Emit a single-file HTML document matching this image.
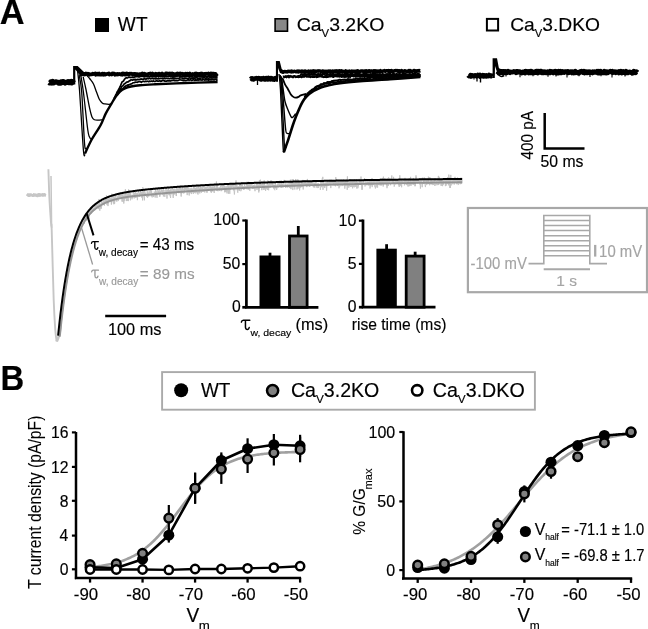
<!DOCTYPE html>
<html><head><meta charset="utf-8"><style>
html,body{margin:0;padding:0;background:#fff;width:648px;height:629px;overflow:hidden}
svg{display:block}
text{font-family:"Liberation Sans", sans-serif}
svg{will-change:transform}
</style></head><body>
<svg width="648" height="629" viewBox="0 0 648 629">
<rect width="648" height="629" fill="#fff"/>
<rect x="95" y="18" width="14" height="14" fill="#000"/>
<rect x="275.1" y="18.8" width="12.4" height="12.4" fill="#888" stroke="#000" stroke-width="1.6"/>
<rect x="486.9" y="18.9" width="11.2" height="11.6" fill="#fff" stroke="#000" stroke-width="2"/>
<path d="M49.00,82.50 L49.60,82.94 L50.20,82.74 L50.80,81.86 L51.40,81.98 L52.00,82.90 L52.60,81.51 L53.20,82.81 L53.80,82.78 L54.40,82.25 L55.00,81.98 L55.60,81.95 L56.20,81.91 L56.80,82.21 L57.40,82.31 L58.00,82.39 L58.60,83.09 L59.20,82.77 L59.80,82.50 L60.40,83.08 L61.00,81.84 L61.60,81.76 L62.20,82.48 L62.80,81.57 L63.40,81.56 L64.00,82.32 L64.60,82.25 L65.20,82.97 L65.80,82.51 L66.40,82.32 L67.00,82.29 L67.60,81.90 L68.20,81.52 L68.80,81.81 L69.40,82.61 L70.00,81.82 L70.60,82.09 L71.20,81.51 L71.80,82.83 L72.40,81.75 L73.00,81.93 L73.60,82.91" fill="none" stroke="#000" stroke-width="5.2" stroke-linejoin="round"/>
<path d="M73.10,84.60 L73.10,65.90 L77.70,65.90 L85.00,73.00 L85.00,76.00 L80.00,75.50 L77.80,72.50 L75.30,69.50 L75.30,84.60 Z" fill="#000"/>
<path d="M80.00,74.11 L80.60,74.59 L81.20,74.30 L81.80,74.44 L82.40,73.53 L83.00,74.16 L83.60,74.11 L84.20,74.62 L84.80,73.91 L85.40,74.24 L86.00,73.48 L86.60,73.94 L87.20,73.85 L87.80,73.61 L88.40,74.54 L89.00,73.93 L89.60,74.77 L90.20,74.23 L90.80,74.25 L91.40,74.29 L92.00,74.35 L92.60,73.61 L93.20,74.02 L93.80,73.74 L94.40,73.96 L95.00,73.54 L95.60,74.75 L96.20,73.70 L96.80,74.34 L97.40,73.82 L98.00,74.62 L98.60,74.33 L99.20,73.58 L99.80,74.58 L100.40,74.72 L101.00,74.67 L101.60,74.20 L102.20,73.60 L102.80,73.67 L103.40,74.70 L104.00,74.17 L104.60,73.65 L105.20,74.64 L105.80,74.30 L106.40,74.20 L107.00,73.93 L107.60,73.98 L108.20,73.74 L108.80,73.45 L109.40,74.63 L110.00,74.05 L110.60,74.17 L111.20,73.85 L111.80,74.45 L112.40,73.44 L113.00,73.92 L113.60,73.44 L114.20,73.57 L114.80,74.75 L115.40,74.32 L116.00,74.00 L116.60,74.13 L117.20,74.62 L117.80,73.88 L118.40,74.23 L119.00,74.36 L119.60,73.90 L120.20,74.13 L120.80,74.47 L121.40,74.67 L122.00,73.61 L122.60,74.71 L123.20,73.41 L123.80,74.45 L124.40,74.53 L125.00,73.59 L125.60,73.99 L126.20,74.54 L126.80,73.42 L127.40,74.28 L128.00,74.51 L128.60,74.12 L129.20,74.42 L129.80,73.72 L130.40,73.68 L131.00,73.91 L131.60,73.65 L132.20,73.88 L132.80,74.73 L133.40,74.20 L134.00,73.88 L134.60,73.78 L135.20,74.73 L135.80,74.02 L136.40,74.77 L137.00,74.12 L137.60,74.13 L138.20,74.66 L138.80,74.44 L139.40,74.21 L140.00,74.00 L140.60,74.63 L141.20,73.98 L141.80,74.69 L142.40,73.50 L143.00,74.00 L143.60,74.13 L144.20,74.73 L144.80,73.75 L145.40,74.53 L146.00,74.35 L146.60,74.40 L147.20,74.28 L147.80,74.76 L148.40,73.87 L149.00,73.96 L149.60,73.68 L150.20,73.47 L150.80,73.70 L151.40,74.68 L152.00,74.58 L152.60,73.56 L153.20,74.25 L153.80,74.07 L154.40,74.23 L155.00,74.32 L155.60,73.83 L156.20,74.75 L156.80,74.05 L157.40,74.28 L158.00,74.29 L158.60,73.66 L159.20,73.49 L159.80,73.98 L160.40,74.47 L161.00,74.54 L161.60,74.42 L162.20,73.56 L162.80,74.68 L163.40,74.52 L164.00,74.63 L164.60,74.13 L165.20,74.68 L165.80,73.47 L166.40,73.44 L167.00,73.43 L167.60,73.75 L168.20,73.75 L168.80,73.66 L169.40,74.19 L170.00,73.45 L170.60,74.23 L171.20,73.63 L171.80,74.35 L172.40,73.43 L173.00,73.83 L173.60,74.71 L174.20,74.15 L174.80,74.54 L175.40,74.32 L176.00,74.26 L176.60,73.67 L177.20,74.20 L177.80,73.46 L178.40,74.52 L179.00,74.74 L179.60,74.60 L180.20,73.47 L180.80,73.87 L181.40,73.85 L182.00,73.56 L182.60,74.28 L183.20,74.52 L183.80,73.84 L184.40,74.61 L185.00,74.52 L185.60,73.58 L186.20,74.47 L186.80,74.64 L187.40,73.68 L188.00,74.20 L188.60,74.29 L189.20,74.25 L189.80,73.53 L190.40,74.33 L191.00,74.28 L191.60,74.55 L192.20,74.52 L192.80,73.86 L193.40,74.41 L194.00,74.61 L194.60,74.65 L195.20,73.63 L195.80,73.44 L196.40,74.31 L197.00,73.70 L197.60,74.19 L198.20,74.72 L198.80,73.93 L199.40,73.75 L200.00,74.04 L200.60,74.32 L201.20,73.54 L201.80,73.93 L202.40,73.59 L203.00,74.33 L203.60,74.56 L204.20,73.93 L204.80,73.92 L205.40,74.16 L206.00,73.70 L206.60,73.75 L207.20,73.86 L207.80,74.04 L208.40,73.51 L209.00,74.45 L209.60,74.21 L210.20,73.82 L210.80,73.51 L211.40,74.47 L212.00,73.58 L212.60,73.59 L213.20,73.58 L213.80,73.51 L214.40,74.67 L215.00,73.78 L215.60,73.83 L216.20,74.57 L216.80,74.27 L217.40,73.66" fill="none" stroke="#000" stroke-width="3.7" stroke-linejoin="round"/>
<path d="M85.00,153.50 C86.12,151.17 89.08,144.25 91.70,139.50 C94.32,134.75 98.37,129.32 100.70,125.00 C103.03,120.68 103.90,117.17 105.70,113.60 C107.50,110.03 109.82,106.45 111.50,103.60 C113.18,100.75 114.38,98.52 115.80,96.50 C117.22,94.48 118.47,92.87 120.00,91.50 C121.53,90.13 123.17,89.13 125.00,88.30 C126.83,87.47 128.50,87.02 131.00,86.50 C133.50,85.98 136.00,85.57 140.00,85.20 C144.00,84.83 147.50,84.67 155.00,84.30 C162.50,83.93 174.57,83.38 185.00,83.00 C195.43,82.62 212.17,82.17 217.60,82.00" fill="none" stroke="#000" stroke-width="2.4" />
<path d="M77.60,71.00 C77.92,74.17 78.53,76.83 79.50,90.00 C80.47,103.17 82.48,139.37 83.40,150.00 C84.32,160.63 84.73,153.17 85.00,153.80" fill="none" stroke="#000" stroke-width="1.3" />
<path d="M79.20,75.50 C79.62,78.25 80.82,80.75 81.70,92.00 C82.58,103.25 83.77,133.58 84.50,143.00 C85.23,152.42 85.58,147.62 86.10,148.50 C86.62,149.38 87.35,148.33 87.60,148.30" fill="none" stroke="#000" stroke-width="1.3" />
<path d="M80.80,75.50 C81.23,78.25 82.23,82.92 83.40,92.00 C84.57,101.08 86.70,122.33 87.80,130.00 C88.90,137.67 89.38,136.50 90.00,138.00 C90.62,139.50 91.12,138.92 91.50,139.00 C91.88,139.08 92.17,138.58 92.30,138.50" fill="none" stroke="#000" stroke-width="1.3" />
<path d="M83.20,77.00 C83.68,79.17 85.05,84.88 86.10,90.00 C87.15,95.12 88.52,103.20 89.50,107.70 C90.48,112.20 91.17,114.98 92.00,117.00 C92.83,119.02 93.50,119.27 94.50,119.80 C95.50,120.33 96.70,120.20 98.00,120.20 C99.30,120.20 101.58,119.87 102.30,119.80" fill="none" stroke="#000" stroke-width="1.3" />
<path d="M86.50,75.00 C87.08,75.67 88.83,77.50 90.00,79.00 C91.17,80.50 92.42,81.83 93.50,84.00 C94.58,86.17 95.53,89.45 96.50,92.00 C97.47,94.55 98.35,97.48 99.30,99.30 C100.25,101.12 101.25,102.13 102.20,102.90 C103.15,103.67 103.82,103.67 105.00,103.90 C106.18,104.13 108.33,104.32 109.30,104.30 C110.27,104.28 110.55,103.88 110.80,103.80" fill="none" stroke="#000" stroke-width="1.3" />
<path d="M114.00,98.43 L114.80,97.28 L115.60,95.18 L116.40,93.91 L117.20,91.70 L118.00,90.73 L118.80,89.18 L119.60,87.63 L120.40,85.87 L121.20,83.97 L122.00,82.06 L122.80,81.58 L123.60,80.88 L124.40,79.37 L125.20,78.51 L126.00,77.84 L126.82,77.94 L127.64,77.98 L128.45,77.10 L129.27,77.05 L130.09,77.55 L130.91,77.29 L131.73,77.26 L132.55,77.42 L133.36,77.26 L134.18,77.05 L135.00,76.88 L135.81,76.49 L136.63,76.73 L137.44,76.27 L138.26,76.84 L139.07,76.83 L139.88,76.79 L140.70,76.51 L141.51,76.44 L142.33,76.48 L143.14,76.09 L143.95,76.89 L144.77,76.59 L145.58,76.43 L146.40,76.58 L147.21,76.75 L148.02,76.41 L148.84,76.85 L149.65,76.94 L150.47,76.40 L151.28,76.14 L152.09,76.76 L152.91,76.99 L153.72,76.14 L154.53,76.70 L155.35,76.81 L156.16,76.90 L156.98,76.10 L157.79,76.06 L158.60,76.95 L159.42,76.08 L160.23,76.13 L161.05,76.53 L161.86,76.39 L162.67,76.69 L163.49,76.13 L164.30,76.85 L165.12,76.15 L165.93,76.69 L166.74,75.99 L167.56,76.39 L168.37,75.94 L169.19,76.22 L170.00,76.21 L170.81,76.62 L171.61,76.35 L172.42,75.95 L173.23,76.89 L174.03,76.78 L174.84,76.81 L175.65,76.13 L176.45,76.28 L177.26,76.11 L178.07,76.01 L178.87,75.91 L179.68,76.38 L180.49,76.00 L181.29,76.05 L182.10,76.74 L182.91,76.36 L183.72,76.05 L184.52,76.54 L185.33,76.13 L186.14,76.39 L186.94,76.15 L187.75,76.38 L188.56,76.49 L189.36,76.40 L190.17,76.25 L190.98,76.65 L191.78,76.73 L192.59,76.03 L193.40,75.99 L194.20,75.96 L195.01,76.83 L195.82,76.79 L196.62,76.07 L197.43,76.81 L198.24,76.05 L199.04,76.35 L199.85,76.33 L200.66,76.75 L201.46,75.87 L202.27,76.15 L203.08,76.43 L203.88,75.90 L204.69,76.06 L205.50,76.29 L206.31,76.70 L207.11,76.58 L207.92,76.65 L208.73,76.58 L209.53,76.52 L210.34,76.66 L211.15,76.50 L211.95,76.55 L212.76,76.11 L213.57,75.98 L214.37,76.56 L215.18,75.97 L215.99,76.72 L216.79,76.40 L217.60,76.30" fill="none" stroke="#000" stroke-width="1.7" stroke-linejoin="round"/>
<path d="M115.00,97.03 L115.90,96.10 L116.80,93.78 L117.70,92.59 L118.60,90.63 L119.50,89.97 L120.33,88.58 L121.17,87.80 L122.00,86.28 L122.83,85.80 L123.67,84.70 L124.50,83.64 L125.31,83.51 L126.12,82.56 L126.94,82.10 L127.75,81.94 L128.56,81.65 L129.38,80.71 L130.19,80.61 L131.00,79.71 L131.83,79.99 L132.65,80.15 L133.48,79.38 L134.30,79.98 L135.13,79.21 L135.96,80.09 L136.78,79.54 L137.61,79.42 L138.43,79.67 L139.26,79.41 L140.09,79.56 L140.91,78.85 L141.74,79.27 L142.57,79.21 L143.39,79.52 L144.22,78.57 L145.04,78.92 L145.87,79.04 L146.70,78.89 L147.52,78.36 L148.35,78.81 L149.17,78.38 L150.00,78.30 L150.81,78.97 L151.62,78.28 L152.43,78.52 L153.24,78.81 L154.05,78.75 L154.86,78.59 L155.68,78.83 L156.49,78.48 L157.30,78.62 L158.11,78.81 L158.92,78.66 L159.73,78.61 L160.54,78.37 L161.35,78.51 L162.16,78.33 L162.97,78.67 L163.78,78.30 L164.59,78.37 L165.41,78.65 L166.22,78.39 L167.03,78.21 L167.84,78.69 L168.65,78.23 L169.46,78.69 L170.27,78.61 L171.08,78.27 L171.89,78.52 L172.70,77.83 L173.51,78.18 L174.32,78.64 L175.14,78.34 L175.95,78.31 L176.76,78.41 L177.57,78.41 L178.38,78.31 L179.19,78.13 L180.00,77.88 L180.82,77.99 L181.63,77.98 L182.45,78.11 L183.27,78.67 L184.09,78.02 L184.90,78.11 L185.72,78.03 L186.54,78.23 L187.36,78.59 L188.17,78.52 L188.99,78.01 L189.81,77.89 L190.63,78.50 L191.44,78.10 L192.26,78.29 L193.08,77.67 L193.90,78.46 L194.71,77.90 L195.53,78.07 L196.35,77.77 L197.17,77.98 L197.98,78.38 L198.80,78.38 L199.62,78.02 L200.43,78.30 L201.25,77.99 L202.07,77.90 L202.89,78.06 L203.70,77.71 L204.52,77.82 L205.34,78.20 L206.16,78.26 L206.97,77.54 L207.79,78.21 L208.61,78.29 L209.43,77.91 L210.24,77.52 L211.06,78.14 L211.88,77.69 L212.70,78.08 L213.51,77.81 L214.33,78.06 L215.15,77.68 L215.97,77.89 L216.78,77.93 L217.60,77.90" fill="none" stroke="#000" stroke-width="1.7" stroke-linejoin="round"/>
<path d="M116.00,96.33 L116.83,94.84 L117.67,94.53 L118.50,92.79 L119.33,91.74 L120.17,90.62 L121.00,89.37 L121.86,89.07 L122.71,88.76 L123.57,88.04 L124.43,86.87 L125.29,86.15 L126.14,85.68 L127.00,85.47 L127.80,84.91 L128.60,85.06 L129.40,84.52 L130.20,84.20 L131.00,84.07 L131.80,83.77 L132.60,83.08 L133.40,82.72 L134.20,82.62 L135.00,82.39 L135.80,81.99 L136.60,82.23 L137.40,82.37 L138.20,81.81 L139.00,81.76 L139.80,81.74 L140.60,81.79 L141.40,82.41 L142.20,81.42 L143.00,81.52 L143.80,81.45 L144.60,81.70 L145.40,81.19 L146.20,81.57 L147.00,81.22 L147.80,81.27 L148.60,81.74 L149.40,81.08 L150.20,81.45 L151.00,81.19 L151.80,81.14 L152.60,81.48 L153.40,80.77 L154.20,81.48 L155.00,81.39 L155.81,81.15 L156.62,80.51 L157.43,81.10 L158.24,81.01 L159.05,81.16 L159.86,80.58 L160.68,81.30 L161.49,81.21 L162.30,80.42 L163.11,80.60 L163.92,80.29 L164.73,81.07 L165.54,81.13 L166.35,81.19 L167.16,80.79 L167.97,80.82 L168.78,80.81 L169.59,80.68 L170.41,81.04 L171.22,80.68 L172.03,80.38 L172.84,80.54 L173.65,80.02 L174.46,80.71 L175.27,80.65 L176.08,80.36 L176.89,80.77 L177.70,80.65 L178.51,80.21 L179.32,79.93 L180.14,79.96 L180.95,79.99 L181.76,80.09 L182.57,80.21 L183.38,80.67 L184.19,80.00 L185.00,80.60 L185.81,80.37 L186.63,80.52 L187.44,80.06 L188.26,79.64 L189.07,80.41 L189.89,79.86 L190.70,79.74 L191.52,80.38 L192.34,80.25 L193.15,79.76 L193.97,79.80 L194.78,80.46 L195.59,79.77 L196.41,80.19 L197.22,79.60 L198.04,80.28 L198.85,79.56 L199.67,79.95 L200.48,79.45 L201.30,79.95 L202.12,80.23 L202.93,79.45 L203.75,79.63 L204.56,80.10 L205.38,79.93 L206.19,79.62 L207.00,79.92 L207.82,79.73 L208.63,80.13 L209.45,79.54 L210.26,79.99 L211.08,79.86 L211.89,79.95 L212.71,79.57 L213.53,79.90 L214.34,79.86 L215.16,79.53 L215.97,79.16 L216.78,80.08 L217.60,79.60" fill="none" stroke="#000" stroke-width="1.7" stroke-linejoin="round"/>
<path d="M250.80,79.14 L251.40,78.33 L252.00,79.17 L252.60,78.45 L253.20,78.75 L253.80,79.38 L254.40,78.72 L255.00,78.46 L255.60,78.49 L256.20,78.12 L256.80,78.35 L257.40,78.43 L258.00,78.28 L258.60,78.10 L259.20,78.75 L259.80,78.34 L260.40,79.18 L261.00,79.48 L261.60,78.44 L262.20,78.92 L262.80,78.81 L263.40,78.12 L264.00,78.20 L264.60,79.42 L265.20,78.76 L265.80,79.29 L266.40,78.11 L267.00,78.95 L267.60,79.38 L268.20,79.39 L268.80,78.01 L269.40,78.83 L270.00,78.59 L270.60,79.22 L271.20,78.12 L271.80,78.42 L272.40,79.30 L273.00,78.75 L273.60,78.73 L274.20,79.55 L274.80,78.51 L275.40,78.07 L276.00,78.63" fill="none" stroke="#000" stroke-width="4.6" stroke-linejoin="round"/>
<line x1="257.50" y1="80.00" x2="257.50" y2="85.00" stroke="#000" stroke-width="1.3"/>
<path d="M275.90,81.70 L275.90,61.10 L279.70,61.10 L281.70,68.90 L284.00,71.00 L284.00,74.00 L280.00,73.00 L278.00,68.00 L278.00,81.70 Z" fill="#000"/>
<path d="M281.00,71.18 L281.60,71.10 L282.20,71.68 L282.80,72.14 L283.40,71.68 L284.00,71.76 L284.60,71.37 L285.20,71.67 L285.80,71.88 L286.40,71.68 L287.00,71.94 L287.60,71.63 L288.20,71.21 L288.80,71.67 L289.40,71.55 L290.00,71.16 L290.60,71.70 L291.20,71.94 L291.80,71.12 L292.40,71.60 L293.00,71.83 L293.60,71.43 L294.20,71.27 L294.80,71.39 L295.40,71.59 L296.00,71.76 L296.60,71.60 L297.20,71.06 L297.80,71.91 L298.40,72.03 L299.00,71.04 L299.60,71.22 L300.20,71.13 L300.80,71.93 L301.40,72.00 L302.00,70.96 L302.60,71.31 L303.20,71.14 L303.80,71.47 L304.40,72.01 L305.00,70.98 L305.60,71.10 L306.20,71.48 L306.80,71.52 L307.40,71.78 L308.00,71.41 L308.60,71.05 L309.20,71.30 L309.80,72.05 L310.40,71.77 L311.00,71.01 L311.60,71.84 L312.20,71.24 L312.80,71.80 L313.40,70.88 L314.00,71.90 L314.60,71.05 L315.20,71.40 L315.80,71.64 L316.40,71.46 L317.00,71.04 L317.60,71.01 L318.20,71.18 L318.80,70.90 L319.40,71.09 L320.00,70.99 L320.60,71.39 L321.20,71.25 L321.80,71.53 L322.40,71.16 L323.00,70.86 L323.60,71.21 L324.20,71.72 L324.80,71.12 L325.40,71.29 L326.00,71.71 L326.60,71.29 L327.20,71.87 L327.80,71.90 L328.40,71.17 L329.00,71.68 L329.60,71.09 L330.20,70.96 L330.80,71.31 L331.40,71.51 L332.00,71.90 L332.60,70.95 L333.20,71.63 L333.80,71.34 L334.40,70.93 L335.00,71.93 L335.60,71.60 L336.20,70.92 L336.80,71.85 L337.40,70.88 L338.00,70.87 L338.60,71.15 L339.20,71.88 L339.80,70.79 L340.40,71.85 L341.00,71.48 L341.60,70.82 L342.20,71.42 L342.80,71.28 L343.40,71.41 L344.00,71.61 L344.60,71.54 L345.20,71.92 L345.80,70.91 L346.40,71.69 L347.00,71.21 L347.60,71.65 L348.20,71.78 L348.80,71.90 L349.40,71.02 L350.00,71.25 L350.60,71.83 L351.20,71.83 L351.80,71.14 L352.40,71.82 L353.00,71.18 L353.60,71.14 L354.20,71.59 L354.80,71.25 L355.40,71.22 L356.00,71.14 L356.60,71.19 L357.20,70.84 L357.80,70.74 L358.40,71.57 L359.00,71.34 L359.60,71.47 L360.20,71.62 L360.80,70.93 L361.40,70.93 L362.00,70.98 L362.60,71.01 L363.20,71.56 L363.80,71.09 L364.40,71.03 L365.00,71.40 L365.60,70.86 L366.20,70.76 L366.80,71.47 L367.40,71.54 L368.00,70.98 L368.60,71.39 L369.20,70.66 L369.80,71.10 L370.40,71.31 L371.00,70.92 L371.60,71.03 L372.20,71.34 L372.80,71.31 L373.40,70.79 L374.00,71.45 L374.60,70.69 L375.20,71.76 L375.80,70.83 L376.40,70.89 L377.00,70.83 L377.60,71.77 L378.20,70.93 L378.80,71.31 L379.40,71.77 L380.00,71.71 L380.60,70.62 L381.20,71.19 L381.80,71.29 L382.40,71.41 L383.00,70.96 L383.60,70.95 L384.20,70.56 L384.80,70.60 L385.40,71.21 L386.00,70.64 L386.60,70.79 L387.20,70.94 L387.80,70.62 L388.40,70.57 L389.00,71.65 L389.60,71.05 L390.20,70.78 L390.80,71.38 L391.40,70.54 L392.00,70.82 L392.60,71.67 L393.20,71.59 L393.80,71.28 L394.40,70.62 L395.00,70.89 L395.60,70.54 L396.20,70.77 L396.80,70.53 L397.40,70.65 L398.00,71.26 L398.60,70.61 L399.20,70.68 L399.80,71.57 L400.40,70.89 L401.00,70.88 L401.60,70.58 L402.20,71.43 L402.80,71.29 L403.40,71.13 L404.00,71.21 L404.60,70.59 L405.20,70.78 L405.80,71.16 L406.40,71.60 L407.00,71.44 L407.60,71.22 L408.20,71.08 L408.80,70.47 L409.40,71.52 L410.00,70.52 L410.60,70.60 L411.20,71.27 L411.80,71.41 L412.40,71.38 L413.00,70.97 L413.60,70.64 L414.20,70.47 L414.80,71.45 L415.40,71.59 L416.00,70.71 L416.60,71.46 L417.20,70.90 L417.80,70.78 L418.40,71.01 L419.00,70.42 L419.60,70.93 L420.20,70.64" fill="none" stroke="#000" stroke-width="3.4" stroke-linejoin="round"/>
<path d="M283.00,76.85 L283.60,76.60 L284.20,77.04 L284.80,77.07 L285.40,76.37 L286.00,76.32 L286.60,77.11 L287.20,76.58 L287.80,76.09 L288.40,76.02 L289.00,77.15 L289.60,76.66 L290.20,76.02 L290.80,76.57 L291.40,76.56 L292.00,76.47 L292.60,77.09 L293.20,77.08 L293.80,76.09 L294.40,76.12 L295.00,76.42 L295.60,76.93 L296.20,76.67 L296.80,76.80 L297.40,76.61 L298.00,76.16 L298.60,76.89 L299.20,75.92 L299.80,76.74 L300.40,76.13 L301.00,76.46 L301.60,77.06 L302.20,76.53 L302.80,75.95 L303.40,76.40 L304.00,76.67 L304.60,75.94 L305.20,76.17 L305.80,75.89 L306.40,76.51 L307.00,76.32 L307.60,76.46 L308.20,76.21 L308.80,76.64 L309.40,76.05 L310.00,76.93 L310.60,76.99 L311.20,76.43 L311.80,76.39 L312.40,76.86 L313.00,76.17 L313.60,76.79 L314.20,76.16 L314.80,76.68 L315.40,76.21 L316.00,76.53 L316.60,76.91 L317.20,75.87 L317.80,76.77 L318.40,76.44 L319.00,76.24 L319.60,76.21 L320.20,75.87 L320.80,76.09 L321.40,76.52 L322.00,75.89 L322.60,76.57 L323.20,76.92 L323.80,76.94 L324.40,76.83 L325.00,76.72 L325.60,75.96 L326.20,76.91 L326.80,75.99 L327.40,76.78 L328.00,76.79 L328.60,76.48 L329.20,76.36 L329.80,75.97 L330.40,76.35 L331.00,76.07 L331.60,75.87 L332.20,75.87 L332.80,76.67 L333.40,76.81 L334.00,75.87 L334.60,75.71 L335.20,76.01 L335.80,75.85 L336.40,75.91 L337.00,76.38 L337.60,76.19 L338.20,76.19 L338.80,75.92 L339.40,76.47 L340.00,76.01 L340.60,76.14 L341.20,76.22 L341.80,76.74 L342.40,75.95 L343.00,76.51 L343.60,76.02 L344.20,76.72 L344.80,76.11 L345.40,76.24 L346.00,76.68 L346.60,76.44 L347.20,75.74 L347.80,75.79 L348.40,76.81 L349.00,75.65 L349.60,75.97 L350.20,76.76 L350.80,75.62 L351.40,75.79 L352.00,75.85 L352.60,75.70 L353.20,76.16 L353.80,76.30 L354.40,75.97 L355.00,75.71 L355.60,76.55 L356.20,76.54 L356.80,76.24 L357.40,75.73 L358.00,76.21 L358.60,76.31 L359.20,76.07 L359.80,76.59 L360.40,76.02 L361.00,76.16 L361.60,75.68 L362.20,76.21 L362.80,76.45 L363.40,76.41 L364.00,75.84 L364.60,76.71 L365.20,76.38 L365.80,76.02 L366.40,76.01 L367.00,76.44 L367.60,75.72 L368.20,76.27 L368.80,76.36 L369.40,76.12 L370.00,76.54 L370.60,76.05 L371.20,76.04 L371.80,75.82 L372.40,76.58 L373.00,75.85 L373.60,76.31 L374.20,75.96 L374.80,76.59 L375.40,76.60 L376.00,75.49 L376.60,76.65 L377.20,76.18 L377.80,75.54 L378.40,76.04 L379.00,75.50 L379.60,76.09 L380.20,75.65 L380.80,75.87 L381.40,75.79 L382.00,76.14 L382.60,76.41 L383.20,76.54 L383.80,75.81 L384.40,76.09 L385.00,75.41 L385.60,75.85 L386.20,76.55 L386.80,75.54 L387.40,76.43 L388.00,76.17 L388.60,75.74 L389.20,76.31 L389.80,75.72 L390.40,76.45 L391.00,75.47 L391.60,75.51 L392.20,76.26 L392.80,75.90 L393.40,75.53 L394.00,75.97 L394.60,75.70 L395.20,76.00 L395.80,76.23 L396.40,76.37 L397.00,75.41 L397.60,76.04 L398.20,76.51 L398.80,75.88 L399.40,76.24 L400.00,75.43 L400.60,76.36 L401.20,76.01 L401.80,76.37 L402.40,76.25 L403.00,76.34 L403.60,75.36 L404.20,76.15 L404.80,75.53 L405.40,75.60 L406.00,75.67 L406.60,75.99 L407.20,76.03 L407.80,76.39 L408.40,75.28 L409.00,75.50 L409.60,75.70 L410.20,76.24 L410.80,75.91 L411.40,75.86 L412.00,76.16 L412.60,76.03 L413.20,75.59 L413.80,75.34 L414.40,75.79 L415.00,76.29 L415.60,75.94 L416.20,75.29 L416.80,75.75 L417.40,75.68 L418.00,75.91 L418.60,75.91 L419.20,76.35 L419.80,75.61 L420.40,75.69" fill="none" stroke="#000" stroke-width="2.4" stroke-linejoin="round"/>
<path d="M300.00,74.34 L300.60,74.66 L301.20,74.45 L301.80,74.17 L302.40,74.58 L303.00,74.18 L303.60,74.76 L304.20,73.94 L304.80,73.75 L305.40,74.60 L306.00,73.96 L306.60,74.62 L307.20,74.33 L307.80,74.21 L308.40,73.70 L309.00,74.54 L309.60,73.68 L310.20,74.76 L310.80,74.65 L311.40,73.96 L312.00,73.75 L312.60,74.66 L313.20,74.18 L313.80,73.75 L314.40,74.20 L315.00,73.90 L315.60,74.09 L316.20,74.37 L316.80,74.70 L317.40,74.56 L318.00,73.79 L318.60,74.17 L319.20,74.19 L319.80,74.79 L320.40,73.70 L321.00,74.21 L321.60,74.70 L322.20,74.08 L322.80,73.91 L323.40,74.27 L324.00,73.98 L324.60,74.71 L325.20,73.70 L325.80,73.85 L326.40,73.70 L327.00,74.45 L327.60,73.95 L328.20,74.68 L328.80,74.67 L329.40,74.72 L330.00,73.91 L330.60,73.60 L331.20,74.07 L331.80,74.76 L332.40,74.52 L333.00,73.67 L333.60,74.44 L334.20,74.70 L334.80,74.76 L335.40,74.46 L336.00,74.64 L336.60,74.61 L337.20,74.03 L337.80,73.72 L338.40,74.47 L339.00,73.76 L339.60,74.06 L340.20,74.79 L340.80,74.27 L341.40,74.23 L342.00,74.74 L342.60,73.94 L343.20,74.80 L343.80,74.69 L344.40,74.04 L345.00,73.99 L345.60,73.75 L346.20,74.70 L346.80,73.82 L347.40,73.61 L348.00,74.67 L348.60,74.32 L349.20,74.41 L349.80,74.48 L350.40,73.65 L351.00,73.71 L351.60,74.20 L352.20,73.66 L352.80,74.21 L353.40,74.48 L354.00,74.39 L354.60,74.34 L355.20,73.66 L355.80,73.88 L356.40,74.68 L357.00,73.75 L357.60,74.24 L358.20,73.66 L358.80,74.73 L359.40,73.81 L360.00,74.09 L360.60,74.26 L361.20,74.46 L361.80,74.72 L362.40,74.48 L363.00,74.02 L363.60,73.69 L364.20,74.45 L364.80,74.77 L365.40,73.62 L366.00,74.53 L366.60,73.81 L367.20,74.15 L367.80,74.23 L368.40,74.34 L369.00,74.79 L369.60,74.42 L370.20,74.07 L370.80,74.46 L371.40,74.16 L372.00,74.10 L372.60,74.04 L373.20,74.19 L373.80,73.94 L374.40,73.89 L375.00,73.78 L375.60,74.13 L376.20,73.95 L376.80,74.60 L377.40,74.62 L378.00,74.01 L378.60,74.34 L379.20,74.68 L379.80,74.03 L380.40,74.27 L381.00,74.13 L381.60,74.38 L382.20,74.75 L382.80,73.77 L383.40,74.76 L384.00,74.40 L384.60,74.56 L385.20,74.36 L385.80,74.64 L386.40,73.99 L387.00,74.45 L387.60,73.92 L388.20,74.21 L388.80,74.42 L389.40,73.84 L390.00,73.67 L390.60,74.55 L391.20,74.57 L391.80,74.40 L392.40,73.99 L393.00,74.39 L393.60,73.70 L394.20,74.40 L394.80,74.29 L395.40,74.34 L396.00,74.14 L396.60,73.87 L397.20,74.47 L397.80,74.16 L398.40,74.49 L399.00,74.04 L399.60,73.71 L400.20,74.25 L400.80,74.35 L401.40,74.71 L402.00,74.67 L402.60,73.67 L403.20,74.53 L403.80,73.91 L404.40,74.44 L405.00,74.06 L405.60,73.99 L406.20,74.19 L406.80,74.24 L407.40,74.43 L408.00,74.37 L408.60,74.41 L409.20,74.06 L409.80,74.41 L410.40,74.01 L411.00,74.33 L411.60,74.15 L412.20,74.28 L412.80,73.62 L413.40,74.20 L414.00,73.86 L414.60,74.06 L415.20,73.69 L415.80,74.39 L416.40,74.67 L417.00,74.03 L417.60,73.73 L418.20,74.34 L418.80,73.75 L419.40,74.67 L420.00,73.75" fill="none" stroke="#000" stroke-width="2.0" stroke-linejoin="round"/>
<path d="M283.80,152.40 C284.58,150.15 286.98,143.47 288.50,138.90 C290.02,134.33 291.65,128.73 292.90,125.00 C294.15,121.27 294.93,119.23 296.00,116.50 C297.07,113.77 298.22,111.02 299.30,108.60 C300.38,106.18 301.30,104.02 302.50,102.00 C303.70,99.98 304.65,98.33 306.50,96.50 C308.35,94.67 311.22,92.50 313.60,91.00 C315.98,89.50 318.40,88.42 320.80,87.50 C323.20,86.58 324.80,86.20 328.00,85.50 C331.20,84.80 334.67,84.00 340.00,83.30 C345.33,82.60 351.67,81.98 360.00,81.30 C368.33,80.62 379.93,79.92 390.00,79.20 C400.07,78.48 415.33,77.37 420.40,77.00" fill="none" stroke="#000" stroke-width="2.6" />
<path d="M279.00,74.00 C279.25,76.67 279.83,78.17 280.50,90.00 C281.17,101.83 282.45,134.60 283.00,145.00 C283.55,155.40 283.67,151.17 283.80,152.40" fill="none" stroke="#000" stroke-width="1.4" />
<path d="M280.20,75.00 C280.45,77.83 281.03,80.67 281.70,92.00 C282.37,103.33 283.63,133.72 284.20,143.00 C284.77,152.28 284.75,147.12 285.10,147.70 C285.45,148.28 286.10,146.70 286.30,146.50" fill="none" stroke="#000" stroke-width="1.4" />
<path d="M281.00,76.00 C281.27,78.67 281.85,83.33 282.60,92.00 C283.35,100.67 284.80,121.13 285.50,128.00 C286.20,134.87 286.18,132.28 286.80,133.20 C287.42,134.12 288.80,133.45 289.20,133.50" fill="none" stroke="#000" stroke-width="1.4" />
<path d="M281.50,77.00 C281.75,78.83 282.42,83.92 283.00,88.00 C283.58,92.08 284.17,97.83 285.00,101.50 C285.83,105.17 286.93,107.38 288.00,110.00 C289.07,112.62 290.48,116.12 291.40,117.20 C292.32,118.28 292.78,117.10 293.50,116.50 C294.22,115.90 295.33,114.08 295.70,113.60" fill="none" stroke="#000" stroke-width="1.4" />
<path d="M282.40,77.99 C282.83,79.04 284.07,82.43 285.00,84.30 C285.93,86.16 287.05,87.55 288.00,89.19 C288.95,90.84 289.87,92.92 290.70,94.15 C291.53,95.39 292.17,96.03 293.00,96.62 C293.83,97.21 294.78,97.63 295.70,97.67 C296.62,97.72 297.67,97.29 298.50,96.89 C299.33,96.49 299.37,95.80 300.70,95.29 C302.03,94.78 305.53,94.08 306.50,93.83" fill="none" stroke="#000" stroke-width="1.8" />
<path d="M304.00,96.64 L304.86,96.29 L305.71,95.36 L306.57,94.43 L307.43,94.18 L308.29,93.32 L309.14,91.92 L310.00,91.29 L310.86,91.25 L311.71,90.85 L312.57,89.90 L313.43,89.59 L314.29,89.13 L315.14,88.31 L316.00,87.64 L316.80,86.87 L317.60,86.67 L318.40,86.57 L319.20,86.53 L320.00,85.55 L320.80,85.30 L321.60,84.57 L322.40,84.90 L323.20,84.29 L324.00,84.30 L324.85,83.58 L325.69,83.85 L326.54,83.71 L327.38,83.35 L328.23,82.92 L329.08,82.98 L329.92,83.17 L330.77,82.46 L331.62,82.21 L332.46,82.42 L333.31,82.04 L334.15,82.45 L335.00,82.32 L335.81,82.38 L336.61,82.21 L337.42,81.95 L338.23,81.43 L339.03,82.00 L339.84,81.84 L340.65,81.80 L341.45,81.68 L342.26,81.75 L343.06,81.15 L343.87,81.46 L344.68,81.24 L345.48,81.00 L346.29,80.92 L347.10,80.69 L347.90,80.96 L348.71,80.77 L349.52,80.76 L350.32,81.13 L351.13,80.89 L351.94,80.83 L352.74,81.06 L353.55,80.23 L354.35,80.46 L355.16,79.98 L355.97,80.22 L356.77,80.71 L357.58,79.78 L358.39,80.39 L359.19,80.43 L360.00,80.01 L360.81,80.24 L361.61,79.83 L362.42,79.69 L363.22,79.79 L364.03,79.43 L364.83,79.49 L365.64,79.43 L366.44,80.06 L367.25,79.36 L368.05,79.20 L368.86,79.85 L369.66,79.00 L370.47,79.77 L371.27,79.61 L372.08,79.35 L372.89,79.07 L373.69,78.79 L374.50,78.65 L375.30,78.59 L376.11,78.78 L376.91,78.79 L377.72,79.25 L378.52,78.81 L379.33,79.21 L380.13,78.89 L380.94,78.26 L381.74,78.61 L382.55,78.17 L383.35,77.99 L384.16,78.84 L384.97,78.18 L385.77,77.98 L386.58,77.84 L387.38,78.34 L388.19,78.09 L388.99,77.59 L389.80,78.24 L390.60,77.73 L391.41,78.20 L392.21,77.86 L393.02,77.85 L393.82,77.72 L394.63,77.88 L395.43,78.14 L396.24,77.90 L397.05,77.12 L397.85,77.49 L398.66,77.17 L399.46,76.99 L400.27,77.03 L401.07,77.03 L401.88,77.69 L402.68,77.42 L403.49,77.47 L404.29,77.27 L405.10,76.83 L405.90,76.85 L406.71,76.85 L407.51,76.65 L408.32,76.72 L409.13,77.02 L409.93,76.27 L410.74,76.42 L411.54,76.57 L412.35,76.71 L413.15,76.63 L413.96,76.65 L414.76,75.98 L415.57,76.00 L416.37,76.08 L417.18,76.00 L417.98,76.42 L418.79,76.60 L419.59,76.24 L420.40,76.00" fill="none" stroke="#000" stroke-width="1.9" stroke-linejoin="round"/>
<path d="M307.00,93.53 L307.86,93.08 L308.71,92.87 L309.57,92.28 L310.43,91.24 L311.29,90.28 L312.14,89.57 L313.00,89.13 L313.86,88.84 L314.71,87.78 L315.57,87.10 L316.43,86.39 L317.29,85.99 L318.14,86.18 L319.00,85.42 L319.80,85.49 L320.60,84.27 L321.40,84.27 L322.20,84.40 L323.00,83.96 L323.80,83.07 L324.60,83.10 L325.40,83.04 L326.20,82.79 L327.00,82.25 L327.81,81.84 L328.62,82.48 L329.44,81.84 L330.25,81.94 L331.06,81.62 L331.88,81.02 L332.69,81.03 L333.50,80.71 L334.31,80.70 L335.12,80.56 L335.94,80.63 L336.75,80.40 L337.56,80.29 L338.38,80.60 L339.19,79.67 L340.00,79.60 L340.81,80.25 L341.62,79.93 L342.43,79.78 L343.24,79.55 L344.05,79.77 L344.86,79.40 L345.68,79.98 L346.49,79.89 L347.30,79.34 L348.11,78.98 L348.92,79.79 L349.73,79.15 L350.54,79.45 L351.35,79.60 L352.16,79.49 L352.97,79.50 L353.78,79.07 L354.59,79.37 L355.41,78.93 L356.22,78.68 L357.03,78.85 L357.84,78.65 L358.65,79.02 L359.46,79.03 L360.27,78.29 L361.08,78.26 L361.89,78.42 L362.70,78.45 L363.51,78.89 L364.32,78.82 L365.14,78.79 L365.95,78.50 L366.76,78.39 L367.57,77.93 L368.38,77.98 L369.19,77.56 L370.00,78.33 L370.81,77.73 L371.63,77.48 L372.44,77.67 L373.25,77.63 L374.06,77.98 L374.88,77.22 L375.69,77.39 L376.50,78.01 L377.32,77.92 L378.13,77.65 L378.94,77.53 L379.75,77.14 L380.57,77.75 L381.38,77.58 L382.19,77.29 L383.01,76.89 L383.82,76.89 L384.63,77.01 L385.45,76.91 L386.26,76.59 L387.07,76.89 L387.88,76.88 L388.70,76.67 L389.51,76.72 L390.32,76.62 L391.14,76.62 L391.95,76.81 L392.76,76.64 L393.57,76.29 L394.39,76.84 L395.20,76.51 L396.01,76.41 L396.83,76.62 L397.64,76.61 L398.45,76.66 L399.26,76.57 L400.08,76.38 L400.89,76.38 L401.70,75.77 L402.52,76.26 L403.33,75.77 L404.14,75.73 L404.95,75.54 L405.77,75.77 L406.58,75.34 L407.39,75.93 L408.21,75.97 L409.02,75.95 L409.83,75.26 L410.65,75.72 L411.46,75.87 L412.27,75.02 L413.08,75.13 L413.90,75.15 L414.71,75.30 L415.52,74.96 L416.34,75.28 L417.15,75.04 L417.96,75.30 L418.77,75.13 L419.59,75.23 L420.40,75.00" fill="none" stroke="#000" stroke-width="1.9" stroke-linejoin="round"/>
<path d="M468.20,75.39 L468.80,76.13 L469.40,76.18 L470.00,76.16 L470.60,75.11 L471.20,76.51 L471.80,75.92 L472.40,75.44 L473.00,75.69 L473.60,75.83 L474.20,75.83 L474.80,75.40 L475.40,75.42 L476.00,75.58 L476.60,76.25 L477.20,75.70 L477.80,75.06 L478.40,75.72 L479.00,75.32 L479.60,75.02 L480.20,76.56 L480.80,75.47 L481.40,75.86 L482.00,75.57 L482.60,75.09 L483.20,76.44 L483.80,76.50 L484.40,75.30 L485.00,75.67 L485.60,75.60 L486.20,75.27 L486.80,76.06 L487.40,76.25 L488.00,76.22 L488.60,76.08 L489.20,75.03 L489.80,75.37 L490.40,75.82 L491.00,76.12 L491.60,75.62 L492.20,75.72 L492.80,76.35" fill="none" stroke="#000" stroke-width="4.6" stroke-linejoin="round"/>
<line x1="480.50" y1="77.00" x2="480.50" y2="82.50" stroke="#000" stroke-width="1.4"/>
<line x1="477.00" y1="77.00" x2="477.00" y2="81.40" stroke="#000" stroke-width="1.3"/>
<path d="M492.60,78.00 L492.60,58.20 L497.00,58.20 L498.80,67.70 L500.00,69.00 L500.00,72.00 L497.00,72.00 L495.00,66.00 L494.80,78.00 Z" fill="#000"/>
<path d="M497.00,71.24 L497.60,71.68 L498.20,71.72 L498.80,72.99 L499.40,71.61 L500.00,71.28 L500.60,71.95 L501.20,72.37 L501.80,71.48 L502.40,72.71 L503.00,71.55 L503.60,72.47 L504.20,71.49 L504.80,72.79 L505.40,71.56 L506.00,72.52 L506.60,72.71 L507.20,71.66 L507.80,71.37 L508.40,72.26 L509.00,72.10 L509.60,72.06 L510.20,72.61 L510.80,72.03 L511.40,72.09 L512.00,72.08 L512.60,72.02 L513.20,71.93 L513.80,71.49 L514.40,71.73 L515.00,71.68 L515.60,71.65 L516.20,72.61 L516.80,71.41 L517.40,71.57 L518.00,72.15 L518.60,71.76 L519.20,71.63 L519.80,71.87 L520.40,72.10 L521.00,72.41 L521.60,72.95 L522.20,72.73 L522.80,71.97 L523.40,72.01 L524.00,71.95 L524.60,71.63 L525.20,72.91 L525.80,71.32 L526.40,71.57 L527.00,72.39 L527.60,72.26 L528.20,71.70 L528.80,72.89 L529.40,71.94 L530.00,72.27 L530.60,71.36 L531.20,72.80 L531.80,71.39 L532.40,71.91 L533.00,72.79 L533.60,72.90 L534.20,72.83 L534.80,72.69 L535.40,71.62 L536.00,71.26 L536.60,72.01 L537.20,71.31 L537.80,72.93 L538.40,71.21 L539.00,71.79 L539.60,71.57 L540.20,71.22 L540.80,72.10 L541.40,71.34 L542.00,72.82 L542.60,72.44 L543.20,71.87 L543.80,72.71 L544.40,72.63 L545.00,71.79 L545.60,72.73 L546.20,72.87 L546.80,72.32 L547.40,71.83 L548.00,72.82 L548.60,72.90 L549.20,71.83 L549.80,71.36 L550.40,72.76 L551.00,72.40 L551.60,71.62 L552.20,72.22 L552.80,71.75 L553.40,72.85 L554.00,71.82 L554.60,71.55 L555.20,71.28 L555.80,71.82 L556.40,72.98 L557.00,71.59 L557.60,72.02 L558.20,72.95 L558.80,71.21 L559.40,71.73 L560.00,72.68 L560.60,71.37 L561.20,72.87 L561.80,72.70 L562.40,71.46 L563.00,72.27 L563.60,72.20 L564.20,72.45 L564.80,71.75 L565.40,71.89 L566.00,71.63 L566.60,71.73 L567.20,71.52 L567.80,72.83 L568.40,72.80 L569.00,71.85 L569.60,72.45 L570.20,72.08 L570.80,71.71 L571.40,71.83 L572.00,72.94 L572.60,71.81 L573.20,72.24 L573.80,72.90 L574.40,71.74 L575.00,72.66 L575.60,71.41 L576.20,72.52 L576.80,72.65 L577.40,72.71 L578.00,72.96 L578.60,72.48 L579.20,72.96 L579.80,71.70 L580.40,72.14 L581.00,71.59 L581.60,71.35 L582.20,71.99 L582.80,72.50 L583.40,72.60 L584.00,71.23 L584.60,72.90 L585.20,71.65 L585.80,71.73 L586.40,72.70 L587.00,72.81 L587.60,72.53 L588.20,71.80 L588.80,72.03 L589.40,72.70 L590.00,71.84 L590.60,72.65 L591.20,72.61 L591.80,72.04 L592.40,72.81 L593.00,71.89 L593.60,72.55 L594.20,72.35 L594.80,71.80 L595.40,72.16 L596.00,72.29 L596.60,72.17 L597.20,71.40 L597.80,72.98 L598.40,72.94 L599.00,71.27 L599.60,72.90 L600.20,72.16 L600.80,71.43 L601.40,72.68 L602.00,71.98 L602.60,72.48 L603.20,72.69 L603.80,72.17 L604.40,71.29 L605.00,72.68 L605.60,72.45 L606.20,72.84 L606.80,71.69 L607.40,72.61 L608.00,72.77 L608.60,71.84 L609.20,71.94 L609.80,71.80 L610.40,71.21 L611.00,71.62 L611.60,71.80 L612.20,71.40 L612.80,72.58 L613.40,71.97 L614.00,72.22 L614.60,71.71 L615.20,71.85 L615.80,72.56 L616.40,72.05 L617.00,72.27 L617.60,71.96 L618.20,72.20 L618.80,72.82 L619.40,71.68 L620.00,72.13 L620.60,72.44 L621.20,71.36 L621.80,72.93 L622.40,72.10 L623.00,71.64 L623.60,72.57 L624.20,72.67 L624.80,72.34 L625.40,72.85 L626.00,71.36 L626.60,72.15 L627.20,72.54 L627.80,72.85 L628.40,72.35 L629.00,72.28 L629.60,71.90 L630.20,72.23 L630.80,72.20 L631.40,72.83 L632.00,72.69 L632.60,72.53 L633.20,72.86 L633.80,71.32 L634.40,72.59 L635.00,72.03 L635.60,72.55 L636.20,71.73 L636.80,72.04 L637.40,72.68" fill="none" stroke="#000" stroke-width="4.9" stroke-linejoin="round"/>
<path d="M497,72 Q500,78.5 504,75.5" fill="none" stroke="#000" stroke-width="1.6" />
<line x1="506.00" y1="74.00" x2="506.00" y2="76.50" stroke="#000" stroke-width="1.1"/>
<line x1="520.00" y1="74.00" x2="520.00" y2="77.30" stroke="#000" stroke-width="1.1"/>
<line x1="533.00" y1="74.00" x2="533.00" y2="76.20" stroke="#000" stroke-width="1.1"/>
<line x1="548.00" y1="74.00" x2="548.00" y2="76.80" stroke="#000" stroke-width="1.1"/>
<line x1="556.00" y1="74.00" x2="556.00" y2="76.40" stroke="#000" stroke-width="1.1"/>
<line x1="567.00" y1="74.00" x2="567.00" y2="77.60" stroke="#000" stroke-width="1.1"/>
<line x1="579.00" y1="74.00" x2="579.00" y2="76.30" stroke="#000" stroke-width="1.1"/>
<line x1="590.00" y1="74.00" x2="590.00" y2="77.00" stroke="#000" stroke-width="1.1"/>
<line x1="601.00" y1="74.00" x2="601.00" y2="76.20" stroke="#000" stroke-width="1.1"/>
<line x1="612.00" y1="74.00" x2="612.00" y2="77.50" stroke="#000" stroke-width="1.1"/>
<line x1="625.00" y1="74.00" x2="625.00" y2="76.60" stroke="#000" stroke-width="1.1"/>
<line x1="632.00" y1="74.00" x2="632.00" y2="76.00" stroke="#000" stroke-width="1.1"/>
<line x1="474.00" y1="77.00" x2="474.00" y2="79.50" stroke="#000" stroke-width="1.1"/>
<line x1="486.00" y1="77.00" x2="486.00" y2="79.00" stroke="#000" stroke-width="1.1"/>
<path d="M544.7,113 V148.4 H584.5" fill="none" stroke="#000" stroke-width="2.5" />
<path d="M26.70,194.16 L27.30,194.62 L27.90,194.98 L28.50,195.63 L29.10,194.59 L29.70,195.58 L30.30,194.54 L30.90,194.65 L31.50,195.10 L32.10,195.28 L32.70,195.68 L33.30,195.68 L33.90,194.55 L34.50,195.44 L35.10,195.24 L35.70,194.80 L36.30,195.50 L36.90,195.72 L37.50,194.96 L38.10,195.75 L38.70,194.33 L39.30,194.40 L39.90,195.48 L40.50,194.65 L41.10,195.15 L41.70,194.99 L42.30,194.36 L42.90,195.46 L43.50,195.43 L44.10,194.36 L44.70,194.57 L45.30,195.54 L45.90,195.74" fill="none" stroke="#c6c6c6" stroke-width="2.8" stroke-linejoin="round"/>
<path d="M48.40,169.30 C48.58,174.42 49.03,190.72 49.50,200.00 C49.97,209.28 50.83,220.00 51.20,225.00 C51.57,230.00 51.28,217.50 51.70,230.00 C52.12,242.50 53.10,283.33 53.70,300.00 C54.30,316.67 54.80,323.08 55.30,330.00 C55.80,336.92 56.47,339.58 56.70,341.50" fill="none" stroke="#c6c6c6" stroke-width="1.9" />
<path d="M51.00,176.00 C51.05,180.00 51.20,191.33 51.30,200.00 C51.40,208.67 51.55,223.33 51.60,228.00" fill="none" stroke="#c6c6c6" stroke-width="1.5" />
<path d="M56.70,341.50 C56.95,340.92 57.72,339.42 58.20,338.00 C58.68,336.58 59.22,335.17 59.60,333.00 C59.98,330.83 60.35,326.33 60.50,325.00" fill="none" stroke="#c6c6c6" stroke-width="2.6" />
<path d="M60.00,335.06 L60.40,330.90 L60.80,327.61 L61.20,323.32 L61.60,320.12 L62.00,316.32 L62.40,313.58 L62.80,309.87 L63.20,306.77 L63.60,303.92 L64.00,301.01 L64.40,297.60 L64.80,294.95 L65.20,291.98 L65.60,289.66 L66.00,287.02 L66.40,284.45 L66.80,281.94 L67.20,279.63 L67.60,277.22 L68.00,275.32 L68.40,273.47 L68.80,270.21 L69.20,268.77 L69.60,266.65 L70.00,265.08 L70.40,261.54 L70.80,260.07 L71.20,257.82 L71.60,257.01 L72.00,255.00 L72.40,253.20 L72.80,251.94 L73.20,249.99 L73.60,247.58 L74.00,247.61 L74.40,245.98 L74.80,244.26 L75.20,243.83 L75.60,242.74 L76.00,239.51 L76.40,238.52 L76.80,239.44 L77.20,238.20 L77.60,234.99 L78.00,233.42 L78.40,232.88 L78.80,231.96 L79.20,229.75 L79.60,230.53 L80.00,228.06 L80.40,227.17 L80.80,228.80 L81.20,225.97 L81.60,225.87 L82.00,225.96 L82.40,225.43 L82.80,223.13 L83.20,222.90 L83.60,220.94 L84.00,223.92 L84.40,221.67 L84.80,218.40 L85.20,219.41 L85.60,219.88 L86.00,218.92 L86.40,220.51 L86.80,219.24 L87.20,215.52 L87.60,215.73 L88.00,213.13 L88.40,215.27 L88.80,214.60 L89.20,218.75 L89.60,213.55 L90.00,208.99 L90.40,211.18 L90.80,212.24 L91.20,209.15 L91.60,209.47 L92.00,210.06 L92.40,211.11 L92.80,209.69 L93.20,207.80 L93.60,210.99 L94.00,207.80 L94.40,207.54 L94.80,205.24 L95.20,206.22 L95.60,209.16 L96.00,203.65 L96.40,206.92 L96.80,208.50 L97.20,205.63 L97.60,206.84 L98.00,203.27 L98.40,208.99 L98.80,208.26 L99.20,205.86 L99.60,200.61 L100.00,202.17 L100.40,207.02 L100.80,208.63 L101.20,204.82 L101.60,206.98 L102.00,202.07 L102.40,202.90 L102.80,203.17 L103.20,204.02 L103.60,198.89 L104.00,204.91 L104.40,205.68 L104.80,199.25 L105.20,198.55 L105.60,202.66 L106.00,199.95 L106.40,195.45 L106.80,203.29 L107.20,201.47 L107.60,199.72 L108.00,206.08 L108.40,200.95 L108.80,198.55 L109.20,200.55 L109.60,197.53 L110.00,198.09 L110.40,200.84 L110.80,198.34 L111.20,198.46 L111.60,203.67 L112.00,201.51 L112.40,201.24 L112.80,200.43 L113.20,200.19 L113.60,202.53 L114.00,198.69 L114.40,203.30 L114.80,196.12 L115.20,197.77 L115.60,194.83 L116.00,197.34 L116.40,199.41 L116.80,201.66 L117.20,196.23 L117.60,197.82 L118.00,196.81 L118.40,195.76 L118.80,194.54 L119.20,197.60 L119.60,192.99 L120.00,197.55 L120.40,197.24 L120.80,195.45 L121.20,194.48 L121.60,193.46 L122.00,201.59 L122.40,193.42 L122.80,200.65 L123.20,198.16 L123.60,195.66 L124.00,193.59 L124.40,199.07 L124.80,200.73 L125.20,193.95 L125.60,195.49 L126.00,198.83 L126.40,196.96 L126.80,201.09 L127.20,194.55 L127.60,197.30 L128.00,192.72 L128.40,201.09 L128.80,193.91 L129.20,190.13 L129.60,195.33 L130.00,195.24 L130.40,200.36 L130.80,194.63 L131.20,195.40 L131.60,196.87 L132.00,199.32 L132.40,195.12 L132.80,197.85 L133.20,196.49 L133.60,194.39 L134.00,195.28 L134.40,195.11 L134.80,192.68 L135.20,198.01 L135.60,191.41 L136.00,197.81 L136.40,197.22 L136.80,194.54 L137.20,192.80 L137.60,194.12 L138.00,195.84 L138.40,196.48 L138.80,195.29 L139.20,197.03 L139.60,193.09 L140.00,195.04 L140.40,190.46 L140.80,196.30 L141.20,194.73 L141.60,193.26 L142.00,197.19 L142.40,195.97 L142.80,187.20 L143.20,194.26 L143.60,190.46 L144.00,196.78 L144.40,200.33 L144.80,192.72 L145.20,194.18 L145.60,193.33 L146.00,194.81 L146.40,195.52 L146.80,197.11 L147.20,191.34 L147.60,197.76 L148.00,191.42 L148.40,194.44 L148.80,196.63 L149.20,195.48 L149.60,191.29 L150.00,191.85 L150.40,192.41 L150.80,193.41 L151.20,196.38 L151.60,190.19 L152.00,194.58 L152.40,194.90 L152.80,194.73 L153.20,194.45 L153.60,197.06 L154.00,194.43 L154.40,195.31 L154.80,194.53 L155.20,197.59 L155.60,188.25 L156.00,196.22 L156.40,192.30 L156.80,192.21 L157.20,190.43 L157.60,188.13 L158.00,191.83 L158.40,191.02 L158.80,193.96 L159.20,188.97 L159.60,196.25 L160.00,193.29 L160.40,191.94 L160.80,190.74 L161.20,190.51 L161.60,189.60 L162.00,191.04 L162.40,192.39 L162.80,191.89 L163.20,188.74 L163.60,191.60 L164.00,189.98 L164.40,192.60 L164.80,196.86 L165.20,193.70 L165.60,191.30 L166.00,187.96 L166.40,188.45 L166.80,187.73 L167.20,193.78 L167.60,189.98 L168.00,192.04 L168.40,190.28 L168.80,192.04 L169.20,195.31 L169.60,190.01 L170.00,190.85 L170.40,189.64 L170.80,193.84 L171.20,189.02 L171.60,188.72 L172.00,188.04 L172.40,187.96 L172.80,192.66 L173.20,197.91 L173.60,188.90 L174.00,193.77 L174.40,191.97 L174.80,188.53 L175.20,190.58 L175.60,190.66 L176.00,189.47 L176.40,196.04 L176.80,186.34 L177.20,192.08 L177.60,191.92 L178.00,189.59 L178.40,191.40 L178.80,193.20 L179.20,191.34 L179.60,191.98 L180.00,192.64 L180.40,185.75 L180.80,194.56 L181.20,196.55 L181.60,193.25 L182.00,193.30 L182.40,187.17 L182.80,190.39 L183.20,188.61 L183.60,189.14 L184.00,193.03 L184.40,188.54 L184.80,190.21 L185.20,185.70 L185.60,190.08 L186.00,190.67 L186.40,188.64 L186.80,188.57 L187.20,195.11 L187.60,187.28 L188.00,187.65 L188.40,188.23 L188.80,193.27 L189.20,195.51 L189.60,191.02 L190.00,188.35 L190.40,189.05 L190.80,192.79 L191.20,187.78 L191.60,193.71 L192.00,193.59 L192.40,190.17 L192.80,191.59 L193.20,191.83 L193.60,193.83 L194.00,187.23 L194.40,192.83 L194.80,188.88 L195.20,187.86 L195.60,190.03 L196.00,189.21 L196.40,187.23 L196.80,185.67 L197.20,187.29 L197.60,193.30 L198.00,194.56 L198.40,191.22 L198.80,192.55 L199.20,188.23 L199.60,189.31 L200.00,190.19 L200.40,186.73 L200.80,186.93 L201.20,189.65 L201.60,188.57 L202.00,186.67 L202.40,190.30 L202.80,188.64 L203.20,191.85 L203.60,189.24 L204.00,188.47 L204.40,189.52 L204.80,188.74 L205.20,187.47 L205.60,188.11 L206.00,190.99 L206.40,190.70 L206.80,192.29 L207.20,184.76 L207.60,188.01 L208.00,187.93 L208.40,189.38 L208.80,187.79 L209.20,187.61 L209.60,190.85 L210.00,189.30 L210.40,185.89 L210.80,192.17 L211.20,191.29 L211.60,187.31 L212.00,190.83 L212.40,186.86 L212.80,191.52 L213.20,188.11 L213.60,186.62 L214.00,187.68 L214.40,186.66 L214.80,189.05 L215.20,188.99 L215.60,188.61 L216.00,187.10 L216.40,181.48 L216.80,188.69 L217.20,183.65 L217.60,189.02 L218.00,191.23 L218.40,189.05 L218.80,187.36 L219.20,187.86 L219.60,187.96 L220.00,186.89 L220.40,186.78 L220.80,185.90 L221.20,191.20 L221.60,188.14 L222.00,190.57 L222.40,187.51 L222.80,188.30 L223.20,187.67 L223.60,189.24 L224.00,190.13 L224.40,188.63 L224.80,186.31 L225.20,186.02 L225.60,192.15 L226.00,187.24 L226.40,187.19 L226.80,191.59 L227.20,190.62 L227.60,189.20 L228.00,186.83 L228.40,193.75 L228.80,188.79 L229.20,189.15 L229.60,187.32 L230.00,184.17 L230.40,184.35 L230.80,188.71 L231.20,188.65 L231.60,187.04 L232.00,184.67 L232.40,183.96 L232.80,186.75 L233.20,183.88 L233.60,189.79 L234.00,190.41 L234.40,194.48 L234.80,189.68 L235.20,185.95 L235.60,185.22 L236.00,180.40 L236.40,185.87 L236.80,186.91 L237.20,189.77 L237.60,188.85 L238.00,188.77 L238.40,187.80 L238.80,188.91 L239.20,190.87 L239.60,184.52 L240.00,186.03 L240.40,183.66 L240.80,191.21 L241.20,190.38 L241.60,188.99 L242.00,184.05 L242.40,187.49 L242.80,186.44 L243.20,187.21 L243.60,186.51 L244.00,188.28 L244.40,185.95 L244.80,189.08 L245.20,187.51 L245.60,186.15 L246.00,186.58 L246.40,185.73 L246.80,188.87 L247.20,186.12 L247.60,187.52 L248.00,185.77 L248.40,183.00 L248.80,189.00 L249.20,184.03 L249.60,188.39 L250.00,187.72 L250.40,182.47 L250.80,184.24 L251.20,185.30 L251.60,184.51 L252.00,183.58 L252.40,188.40 L252.80,185.92 L253.20,187.47 L253.60,185.40 L254.00,187.23 L254.40,184.55 L254.80,186.35 L255.20,187.87 L255.60,186.50 L256.00,185.21 L256.40,183.61 L256.80,186.75 L257.20,187.17 L257.60,185.63 L258.00,184.33 L258.40,187.61 L258.80,192.48 L259.20,185.45 L259.60,187.04 L260.00,187.12 L260.40,179.68 L260.80,186.45 L261.20,184.33 L261.60,189.59 L262.00,185.44 L262.40,184.10 L262.80,185.49 L263.20,186.44 L263.60,184.59 L264.00,185.85 L264.40,182.55 L264.80,185.38 L265.20,187.88 L265.60,190.87 L266.00,187.67 L266.40,186.56 L266.80,188.84 L267.20,188.41 L267.60,190.01 L268.00,188.53 L268.40,185.49 L268.80,186.42 L269.20,186.20 L269.60,186.49 L270.00,186.22 L270.40,183.72 L270.80,180.38 L271.20,183.97 L271.60,180.54 L272.00,185.79 L272.40,185.62 L272.80,181.37 L273.20,187.30 L273.60,187.74 L274.00,185.78 L274.40,189.72 L274.80,190.22 L275.20,182.44 L275.60,188.08 L276.00,186.56 L276.40,186.49 L276.80,187.77 L277.20,183.59 L277.60,183.89 L278.00,183.28 L278.40,183.44 L278.80,185.08 L279.20,181.65 L279.60,182.66 L280.00,186.73 L280.40,185.08 L280.80,186.21 L281.20,180.47 L281.60,183.24 L282.00,183.80 L282.40,185.26 L282.80,183.68 L283.20,187.50 L283.60,184.98 L284.00,185.16 L284.40,185.13 L284.80,186.86 L285.20,183.87 L285.60,187.88 L286.00,186.19 L286.40,185.40 L286.80,185.10 L287.20,186.29 L287.60,187.52 L288.00,187.33 L288.40,185.88 L288.80,187.13 L289.20,185.20 L289.60,188.04 L290.00,184.80 L290.40,179.62 L290.80,188.21 L291.20,185.09 L291.60,181.86 L292.00,184.29 L292.40,182.55 L292.80,190.05 L293.20,186.00 L293.60,180.77 L294.00,186.09 L294.40,183.69 L294.80,189.51 L295.20,182.01 L295.60,178.99 L296.00,184.80 L296.40,183.74 L296.80,183.55 L297.20,179.19 L297.60,185.65 L298.00,188.78 L298.40,179.73 L298.80,187.48 L299.20,183.08 L299.60,190.42 L300.00,185.58 L300.40,184.00 L300.80,187.24 L301.20,185.77 L301.60,182.94 L302.00,186.21 L302.40,183.12 L302.80,179.89 L303.20,189.51 L303.60,183.49 L304.00,182.83 L304.40,185.20 L304.80,180.41 L305.20,180.92 L305.60,183.06 L306.00,182.99 L306.40,184.47 L306.80,187.11 L307.20,183.07 L307.60,185.50 L308.00,185.76 L308.40,181.50 L308.80,184.80 L309.20,181.83 L309.60,186.88 L310.00,185.33 L310.40,184.22 L310.80,180.79 L311.20,184.44 L311.60,182.21 L312.00,185.91 L312.40,183.82 L312.80,182.06 L313.20,186.43 L313.60,185.90 L314.00,182.58 L314.40,186.99 L314.80,183.30 L315.20,183.26 L315.60,184.34 L316.00,182.12 L316.40,182.89 L316.80,183.59 L317.20,187.84 L317.60,187.75 L318.00,183.31 L318.40,188.01 L318.80,183.83 L319.20,184.89 L319.60,186.15 L320.00,184.65 L320.40,189.98 L320.80,184.50 L321.20,180.86 L321.60,187.16 L322.00,182.82 L322.40,183.08 L322.80,176.83 L323.20,186.35 L323.60,185.88 L324.00,185.82 L324.40,186.26 L324.80,188.04 L325.20,183.66 L325.60,186.12 L326.00,181.88 L326.40,182.85 L326.80,186.39 L327.20,184.71 L327.60,180.35 L328.00,184.61 L328.40,183.23 L328.80,181.62 L329.20,184.76 L329.60,182.64 L330.00,179.69 L330.40,180.84 L330.80,188.09 L331.20,179.80 L331.60,184.17 L332.00,185.14 L332.40,185.20 L332.80,180.49 L333.20,182.76 L333.60,183.91 L334.00,185.57 L334.40,181.91 L334.80,180.60 L335.20,186.05 L335.60,186.29 L336.00,184.43 L336.40,181.96 L336.80,184.51 L337.20,183.75 L337.60,185.57 L338.00,180.30 L338.40,183.74 L338.80,183.03 L339.20,180.63 L339.60,183.96 L340.00,183.49 L340.40,182.36 L340.80,184.38 L341.20,179.80 L341.60,183.23 L342.00,184.44 L342.40,184.06 L342.80,186.05 L343.20,180.30 L343.60,179.52 L344.00,183.91 L344.40,184.45 L344.80,188.63 L345.20,184.84 L345.60,181.07 L346.00,185.30 L346.40,181.12 L346.80,179.50 L347.20,189.81 L347.60,184.05 L348.00,185.02 L348.40,184.63 L348.80,187.77 L349.20,183.91 L349.60,186.25 L350.00,180.58 L350.40,179.66 L350.80,186.75 L351.20,186.86 L351.60,184.42 L352.00,183.70 L352.40,183.54 L352.80,181.38 L353.20,186.98 L353.60,184.75 L354.00,184.36 L354.40,184.02 L354.80,185.71 L355.20,184.33 L355.60,184.93 L356.00,180.10 L356.40,184.32 L356.80,188.54 L357.20,181.71 L357.60,182.68 L358.00,185.25 L358.40,185.40 L358.80,184.55 L359.20,178.90 L359.60,184.23 L360.00,179.97 L360.40,180.87 L360.80,184.32 L361.20,182.18 L361.60,184.96 L362.00,189.91 L362.40,184.86 L362.80,184.72 L363.20,180.63 L363.60,181.26 L364.00,180.19 L364.40,181.52 L364.80,180.10 L365.20,181.18 L365.60,182.31 L366.00,180.31 L366.40,179.25 L366.80,179.38 L367.20,183.95 L367.60,182.95 L368.00,185.38 L368.40,185.41 L368.80,181.92 L369.20,184.45 L369.60,179.13 L370.00,188.50 L370.40,185.75 L370.80,182.19 L371.20,179.79 L371.60,183.68 L372.00,178.00 L372.40,180.74 L372.80,184.58 L373.20,182.88 L373.60,181.44 L374.00,185.07 L374.40,180.04 L374.80,183.37 L375.20,181.39 L375.60,180.50 L376.00,183.80 L376.40,180.12 L376.80,187.41 L377.20,181.13 L377.60,187.61 L378.00,179.84 L378.40,184.11 L378.80,179.55 L379.20,179.19 L379.60,182.96 L380.00,184.26 L380.40,179.34 L380.80,185.52 L381.20,180.52 L381.60,182.85 L382.00,183.47 L382.40,184.01 L382.80,177.97 L383.20,186.57 L383.60,183.90 L384.00,181.41 L384.40,179.89 L384.80,178.20 L385.20,179.03 L385.60,183.82 L386.00,181.58 L386.40,179.58 L386.80,181.10 L387.20,186.36 L387.60,181.58 L388.00,180.93 L388.40,185.80 L388.80,183.55 L389.20,182.50 L389.60,180.84 L390.00,178.46 L390.40,179.41 L390.80,181.14 L391.20,181.79 L391.60,183.24 L392.00,183.72 L392.40,182.89 L392.80,182.87 L393.20,179.77 L393.60,176.87 L394.00,180.99 L394.40,179.89 L394.80,180.64 L395.20,181.58 L395.60,179.14 L396.00,179.46 L396.40,182.00 L396.80,182.54 L397.20,180.59 L397.60,183.49 L398.00,181.67 L398.40,179.65 L398.80,182.32 L399.20,186.95 L399.60,180.50 L400.00,185.13 L400.40,185.66 L400.80,185.95 L401.20,180.10 L401.60,187.24 L402.00,182.45 L402.40,181.51 L402.80,181.56 L403.20,183.65 L403.60,182.26 L404.00,181.68 L404.40,185.35 L404.80,180.29 L405.20,179.48 L405.60,184.10 L406.00,183.86 L406.40,184.84 L406.80,179.38 L407.20,184.80 L407.60,183.28 L408.00,186.50 L408.40,178.91 L408.80,182.60 L409.20,181.34 L409.60,178.03 L410.00,180.22 L410.40,184.86 L410.80,180.83 L411.20,180.18 L411.60,184.19 L412.00,184.48 L412.40,184.47 L412.80,179.99 L413.20,181.83 L413.60,184.56 L414.00,180.31 L414.40,180.07 L414.80,184.03 L415.20,185.88 L415.60,179.03 L416.00,175.38 L416.40,178.27 L416.80,179.36 L417.20,181.56 L417.60,183.46 L418.00,181.53 L418.40,180.13 L418.80,182.27 L419.20,179.45 L419.60,181.75 L420.00,180.25 L420.40,188.61 L420.80,183.91 L421.20,179.74 L421.60,179.33 L422.00,180.73 L422.40,177.68 L422.80,179.98 L423.20,179.96 L423.60,184.04 L424.00,180.73 L424.40,179.81 L424.80,178.41 L425.20,178.82 L425.60,181.61 L426.00,181.23 L426.40,184.63 L426.80,180.18 L427.20,184.42 L427.60,182.40 L428.00,181.73 L428.40,176.68 L428.80,178.48 L429.20,183.59 L429.60,185.24 L430.00,182.23 L430.40,183.63 L430.80,180.67 L431.20,180.76 L431.60,180.02 L432.00,184.14 L432.40,182.54 L432.80,181.08 L433.20,180.84 L433.60,183.06 L434.00,182.47 L434.40,179.55 L434.80,185.97 L435.20,182.28 L435.60,181.66 L436.00,185.35 L436.40,184.20 L436.80,181.39 L437.20,182.96 L437.60,178.90 L438.00,179.98 L438.40,175.89 L438.80,184.66 L439.20,176.79 L439.60,183.29 L440.00,179.47 L440.40,179.09 L440.80,181.06 L441.20,182.22 L441.60,183.09 L442.00,186.00 L442.40,182.44 L442.80,183.75 L443.20,180.01 L443.60,183.31 L444.00,181.90 L444.40,180.34 L444.80,181.26 L445.20,181.34 L445.60,181.97 L446.00,182.49 L446.40,180.19 L446.80,179.60 L447.20,183.35 L447.60,177.18 L448.00,179.89 L448.40,185.36 L448.80,174.62 L449.20,179.69 L449.60,183.16 L450.00,177.27 L450.40,187.97 L450.80,174.89 L451.20,185.03 L451.60,185.33 L452.00,183.71 L452.40,180.83 L452.80,182.29 L453.20,179.12 L453.60,183.42 L454.00,178.55 L454.40,180.67 L454.80,183.87 L455.20,178.55 L455.60,180.43 L456.00,181.76 L456.40,177.96 L456.80,184.27 L457.20,182.19 L457.60,177.50 L458.00,181.20 L458.40,179.36 L458.80,179.65 L459.20,181.49 L459.60,179.51 L460.00,183.72 L460.40,179.51 L460.80,183.75 L461.20,181.16 L461.60,183.43 L462.00,179.90 L462.40,179.99" fill="none" stroke="#c2c2c2" stroke-width="0.9" />
<path d="M60.20,332.57 L60.60,329.14 L61.00,325.52 L61.40,322.19 L61.80,318.52 L62.20,314.90 L62.60,311.51 L63.00,308.44 L63.40,305.23 L63.80,302.53 L64.20,299.48 L64.60,296.24 L65.00,293.50 L65.40,291.24 L65.80,288.39 L66.20,285.73 L66.60,283.56 L67.00,280.81 L67.40,278.49 L67.80,276.16 L68.20,273.48 L68.60,272.21 L69.00,269.40 L69.40,267.59 L69.80,265.53 L70.20,263.24 L70.60,261.02 L71.00,259.25 L71.40,256.59 L71.80,255.73 L72.20,253.24 L72.60,252.69 L73.00,251.16 L73.40,249.39 L73.80,249.35 L74.20,246.86 L74.60,245.52 L75.00,243.81 L75.40,242.22 L75.80,241.91 L76.20,240.80 L76.60,237.43 L77.00,238.42 L77.40,236.77 L77.80,236.11 L78.20,234.55 L78.60,231.70 L79.00,230.72 L79.40,233.01 L79.80,230.30 L80.20,227.41 L80.60,228.56 L81.00,226.81 L81.40,224.07 L81.80,222.61 L82.20,222.65 L82.60,224.33 L83.00,223.14 L83.40,222.12 L83.80,222.16 L84.20,221.93 L84.60,217.26 L85.00,219.27 L85.40,217.81 L85.80,216.53 L86.20,216.98 L86.60,217.07 L87.00,216.26 L87.40,213.70 L87.80,214.78 L88.20,218.60 L88.60,212.71 L89.00,211.05 L89.40,214.11 L89.80,214.25 L90.20,213.56 L90.60,210.10 L91.00,213.75 L91.40,209.85 L91.80,208.72 L92.20,209.37 L92.60,209.99 L93.00,211.34 L93.40,210.81 L93.80,209.09 L94.20,210.82 L94.60,208.64 L95.00,210.14 L95.40,204.66 L95.80,203.92 L96.20,209.03 L96.60,203.68 L97.00,205.95 L97.40,206.16 L97.80,204.94 L98.20,204.76 L98.60,209.09 L99.00,199.01 L99.40,207.38 L99.80,210.70 L100.20,204.74 L100.60,204.38 L101.00,206.02 L101.40,208.56 L101.80,200.72 L102.20,203.71 L102.60,202.80 L103.00,204.47 L103.40,203.25 L103.80,204.30 L104.20,201.38 L104.60,202.37 L105.00,200.36 L105.40,200.19 L105.80,201.33 L106.20,201.15 L106.60,198.38 L107.00,205.12 L107.40,200.66 L107.80,197.35 L108.20,203.45 L108.60,198.64 L109.00,201.65 L109.40,200.18 L109.80,200.71 L110.20,200.37 L110.60,198.35 L111.00,199.77 L111.40,204.66 L111.80,193.76 L112.20,199.44 L112.60,200.25 L113.00,196.38 L113.40,195.46 L113.80,204.24 L114.20,197.75 L114.60,203.81 L115.00,199.81 L115.40,198.55 L115.80,199.45 L116.20,199.75 L116.60,201.02 L117.00,199.05 L117.40,198.22 L117.80,198.21 L118.20,201.08 L118.60,199.64 L119.00,194.96 L119.40,195.80 L119.80,198.15 L120.20,195.66 L120.60,196.20 L121.00,194.66 L121.40,196.33 L121.80,197.98 L122.20,199.34 L122.60,196.78 L123.00,201.92 L123.40,196.42 L123.80,203.54 L124.20,199.00 L124.60,197.66 L125.00,195.08 L125.40,189.27 L125.80,195.82 L126.20,196.59 L126.60,200.93 L127.00,192.54 L127.40,200.76 L127.80,195.27 L128.20,197.67 L128.60,189.38 L129.00,196.08 L129.40,194.80 L129.80,197.33 L130.20,195.79 L130.60,192.63 L131.00,197.84 L131.40,197.15 L131.80,196.86 L132.20,197.84 L132.60,198.03 L133.00,195.15 L133.40,191.73 L133.80,191.62 L134.20,198.46 L134.60,196.81 L135.00,195.23 L135.40,193.83 L135.80,194.96 L136.20,194.90 L136.60,193.95 L137.00,192.99 L137.40,200.16 L137.80,195.25 L138.20,193.10 L138.60,191.31 L139.00,192.72 L139.40,196.32 L139.80,196.38 L140.20,193.88 L140.60,194.53 L141.00,193.59 L141.40,191.53 L141.80,197.56 L142.20,195.19 L142.60,200.45 L143.00,192.27 L143.40,193.80 L143.80,196.33 L144.20,193.46 L144.60,190.54 L145.00,191.62 L145.40,194.23 L145.80,194.81 L146.20,193.67 L146.60,196.41 L147.00,196.35 L147.40,194.63 L147.80,193.85 L148.20,193.12 L148.60,195.11 L149.00,196.01 L149.40,193.82 L149.80,194.77 L150.20,192.78 L150.60,190.00 L151.00,190.99 L151.40,195.40 L151.80,194.55 L152.20,197.39 L152.60,193.48 L153.00,195.48 L153.40,196.59 L153.80,195.72 L154.20,191.64 L154.60,192.67 L155.00,193.42 L155.40,190.57 L155.80,194.21 L156.20,195.55 L156.60,191.72 L157.00,197.86 L157.40,192.12 L157.80,192.30 L158.20,192.18 L158.60,190.95 L159.00,193.75 L159.40,192.71 L159.80,196.81 L160.20,194.11 L160.60,193.90 L161.00,191.95 L161.40,188.91 L161.80,192.21 L162.20,190.25 L162.60,194.76 L163.00,192.25 L163.40,196.48 L163.80,194.10 L164.20,194.32 L164.60,192.76 L165.00,192.67 L165.40,193.75 L165.80,194.40 L166.20,190.24 L166.60,193.24 L167.00,198.57 L167.40,191.70 L167.80,191.25 L168.20,190.11 L168.60,188.18 L169.00,194.79 L169.40,191.91 L169.80,192.48 L170.20,196.34 L170.60,197.98 L171.00,189.38 L171.40,194.25 L171.80,193.13 L172.20,192.53 L172.60,192.70 L173.00,191.40 L173.40,195.43 L173.80,192.94 L174.20,192.23 L174.60,194.47 L175.00,193.56 L175.40,192.43 L175.80,192.06 L176.20,195.63 L176.60,192.45 L177.00,190.91 L177.40,188.95 L177.80,190.21 L178.20,188.40 L178.60,191.28 L179.00,191.63 L179.40,185.78 L179.80,190.97 L180.20,192.52 L180.60,191.28 L181.00,188.42 L181.40,193.99 L181.80,189.01 L182.20,187.64 L182.60,187.98 L183.00,190.64 L183.40,193.12 L183.80,193.55 L184.20,191.11 L184.60,187.55 L185.00,188.87 L185.40,188.23 L185.80,190.02 L186.20,185.97 L186.60,190.69 L187.00,192.00 L187.40,189.97 L187.80,191.48 L188.20,187.93 L188.60,186.60 L189.00,188.63 L189.40,193.12 L189.80,192.77 L190.20,189.00 L190.60,193.15 L191.00,189.27 L191.40,193.87 L191.80,191.25 L192.20,188.87 L192.60,191.98 L193.00,188.00 L193.40,187.57 L193.80,186.24 L194.20,190.52 L194.60,189.71 L195.00,189.62 L195.40,188.75 L195.80,193.38 L196.20,188.66 L196.60,187.88 L197.00,192.82 L197.40,193.23 L197.80,190.48 L198.20,185.21 L198.60,188.06 L199.00,191.09 L199.40,189.56 L199.80,193.41 L200.20,186.02 L200.60,191.15 L201.00,187.84 L201.40,192.72 L201.80,189.17 L202.20,191.94 L202.60,187.68 L203.00,185.74 L203.40,186.46 L203.80,187.71 L204.20,186.63 L204.60,192.21 L205.00,192.54 L205.40,189.82 L205.80,186.50 L206.20,188.79 L206.60,187.33 L207.00,192.70 L207.40,189.81 L207.80,190.22 L208.20,187.96 L208.60,183.87 L209.00,186.97 L209.40,186.08 L209.80,189.80 L210.20,189.08 L210.60,186.80 L211.00,187.81 L211.40,192.72 L211.80,186.33 L212.20,186.41 L212.60,188.12 L213.00,186.91 L213.40,187.57 L213.80,189.97 L214.20,192.97 L214.60,184.10 L215.00,188.51 L215.40,188.64 L215.80,188.30 L216.20,188.02 L216.60,187.61 L217.00,190.97 L217.40,187.25 L217.80,188.08 L218.20,188.37 L218.60,188.62 L219.00,187.90 L219.40,190.82 L219.80,188.26 L220.20,188.70 L220.60,188.11 L221.00,185.69 L221.40,186.10 L221.80,185.53 L222.20,188.64 L222.60,186.33 L223.00,185.43 L223.40,188.68 L223.80,189.39 L224.20,183.60 L224.60,192.28 L225.00,188.08 L225.40,187.71 L225.80,190.64 L226.20,188.11 L226.60,186.39 L227.00,193.42 L227.40,185.16 L227.80,187.60 L228.20,189.96 L228.60,185.11 L229.00,187.53 L229.40,188.74 L229.80,193.80 L230.20,185.47 L230.60,187.58 L231.00,189.34 L231.40,187.86 L231.80,184.60 L232.20,188.64 L232.60,187.86 L233.00,188.69 L233.40,190.39 L233.80,190.07 L234.20,188.52 L234.60,188.26 L235.00,184.68 L235.40,187.09 L235.80,187.96 L236.20,186.37 L236.60,187.61 L237.00,185.26 L237.40,191.19 L237.80,192.72 L238.20,186.29 L238.60,188.26 L239.00,186.64 L239.40,190.39 L239.80,188.29 L240.20,187.36 L240.60,186.58 L241.00,187.44 L241.40,184.58 L241.80,188.79 L242.20,185.26 L242.60,188.39 L243.00,187.35 L243.40,189.76 L243.80,186.93 L244.20,189.53 L244.60,184.61 L245.00,188.45 L245.40,186.33 L245.80,187.36 L246.20,187.03 L246.60,189.19 L247.00,181.72 L247.40,187.61 L247.80,183.00 L248.20,189.79 L248.60,181.76 L249.00,184.18 L249.40,182.47 L249.80,190.80 L250.20,183.40 L250.60,186.92 L251.00,185.26 L251.40,182.05 L251.80,185.72 L252.20,188.22 L252.60,186.07 L253.00,188.88 L253.40,185.58 L253.80,186.49 L254.20,185.48 L254.60,187.30 L255.00,191.20 L255.40,187.30 L255.80,186.86 L256.20,184.79 L256.60,184.43 L257.00,190.00 L257.40,183.49 L257.80,183.97 L258.20,186.01 L258.60,185.16 L259.00,191.15 L259.40,180.24 L259.80,187.09 L260.20,187.96 L260.60,183.32 L261.00,184.50 L261.40,187.20 L261.80,190.19 L262.20,183.75 L262.60,182.07 L263.00,188.48 L263.40,189.85 L263.80,185.15 L264.20,180.40 L264.60,189.62 L265.00,185.44 L265.40,188.75 L265.80,185.79 L266.20,184.94 L266.60,184.73 L267.00,189.56 L267.40,189.44 L267.80,180.42 L268.20,183.43 L268.60,190.25 L269.00,184.83 L269.40,182.31 L269.80,185.73 L270.20,185.43 L270.60,185.44 L271.00,184.46 L271.40,184.87 L271.80,184.48 L272.20,186.46 L272.60,183.55 L273.00,184.85 L273.40,185.20 L273.80,188.83 L274.20,186.47 L274.60,185.23 L275.00,186.84 L275.40,186.50 L275.80,188.20 L276.20,186.72 L276.60,189.94 L277.00,188.79 L277.40,185.29 L277.80,184.33 L278.20,187.58 L278.60,186.64 L279.00,185.08 L279.40,181.58 L279.80,180.67 L280.20,186.15 L280.60,187.20 L281.00,187.26 L281.40,181.98 L281.80,187.82 L282.20,183.84 L282.60,186.15 L283.00,186.20 L283.40,183.11 L283.80,183.63 L284.20,179.88 L284.60,182.78 L285.00,180.53 L285.40,186.16 L285.80,185.19 L286.20,187.33 L286.60,185.90 L287.00,183.39 L287.40,185.85 L287.80,183.97 L288.20,186.48 L288.60,185.72 L289.00,182.42 L289.40,184.90 L289.80,185.02 L290.20,184.09 L290.60,187.10 L291.00,189.15 L291.40,183.89 L291.80,183.91 L292.20,179.12 L292.60,184.44 L293.00,183.65 L293.40,179.29 L293.80,185.45 L294.20,186.19 L294.60,182.84 L295.00,183.73 L295.40,182.22 L295.80,186.56 L296.20,180.80 L296.60,183.82 L297.00,189.51 L297.40,184.71 L297.80,185.75 L298.20,184.18 L298.60,181.58 L299.00,184.44 L299.40,185.53 L299.80,181.91 L300.20,185.34 L300.60,187.60 L301.00,187.15 L301.40,180.45 L301.80,181.97 L302.20,180.35 L302.60,187.10 L303.00,185.93 L303.40,186.15 L303.80,182.15 L304.20,181.42 L304.60,184.54 L305.00,184.59 L305.40,182.17 L305.80,184.67 L306.20,185.92 L306.60,184.86 L307.00,181.65 L307.40,178.94 L307.80,183.60 L308.20,184.65 L308.60,183.57 L309.00,183.14 L309.40,182.46 L309.80,186.00 L310.20,184.05 L310.60,184.48 L311.00,181.71 L311.40,182.58 L311.80,184.55 L312.20,181.59 L312.60,180.94 L313.00,183.27 L313.40,187.12 L313.80,184.56 L314.20,187.75 L314.60,183.73 L315.00,183.26 L315.40,180.53 L315.80,182.57 L316.20,187.63 L316.60,184.83 L317.00,185.84 L317.40,185.76 L317.80,183.94 L318.20,183.44 L318.60,184.25 L319.00,185.63 L319.40,185.08 L319.80,185.15 L320.20,184.29 L320.60,181.95 L321.00,183.22 L321.40,181.50 L321.80,186.39 L322.20,178.55 L322.60,183.29 L323.00,189.85 L323.40,182.96 L323.80,180.95 L324.20,183.75 L324.60,187.04 L325.00,183.37 L325.40,185.31 L325.80,184.01 L326.20,182.81 L326.60,190.74 L327.00,183.90 L327.40,182.36 L327.80,182.47 L328.20,184.65 L328.60,184.72 L329.00,185.62 L329.40,184.02 L329.80,180.05 L330.20,184.98 L330.60,182.86 L331.00,182.90 L331.40,179.88 L331.80,182.16 L332.20,181.76 L332.60,183.49 L333.00,179.91 L333.40,183.69 L333.80,183.87 L334.20,180.72 L334.60,181.96 L335.00,181.36 L335.40,185.80 L335.80,177.13 L336.20,182.63 L336.60,179.30 L337.00,182.39 L337.40,185.60 L337.80,181.87 L338.20,183.80 L338.60,181.31 L339.00,188.32 L339.40,185.72 L339.80,186.25 L340.20,180.05 L340.60,180.62 L341.00,186.10 L341.40,182.88 L341.80,182.71 L342.20,184.19 L342.60,180.18 L343.00,185.28 L343.40,183.37 L343.80,184.52 L344.20,181.62 L344.60,184.59 L345.00,181.51 L345.40,185.68 L345.80,186.12 L346.20,185.56 L346.60,184.55 L347.00,184.84 L347.40,176.41 L347.80,185.33 L348.20,182.52 L348.60,183.44 L349.00,182.48 L349.40,179.68 L349.80,181.82 L350.20,184.83 L350.60,186.73 L351.00,181.58 L351.40,180.86 L351.80,186.79 L352.20,180.90 L352.60,188.34 L353.00,183.23 L353.40,180.87 L353.80,185.57 L354.20,187.35 L354.60,179.46 L355.00,186.99 L355.40,182.34 L355.80,186.79 L356.20,182.08 L356.60,179.05 L357.00,184.28 L357.40,185.35 L357.80,188.28 L358.20,187.34 L358.60,184.74 L359.00,182.38 L359.40,181.66 L359.80,182.22 L360.20,180.86 L360.60,182.25 L361.00,176.52 L361.40,183.38 L361.80,182.84 L362.20,189.38 L362.60,184.81 L363.00,181.68 L363.40,184.31 L363.80,179.79 L364.20,181.35 L364.60,178.15 L365.00,186.47 L365.40,184.34 L365.80,179.87 L366.20,182.67 L366.60,185.21 L367.00,184.06 L367.40,183.77 L367.80,180.63 L368.20,181.18 L368.60,183.02 L369.00,185.09 L369.40,180.67 L369.80,179.93 L370.20,185.63 L370.60,180.39 L371.00,185.44 L371.40,183.33 L371.80,184.93 L372.20,187.10 L372.60,184.43 L373.00,184.65 L373.40,180.37 L373.80,180.92 L374.20,184.29 L374.60,186.52 L375.00,186.16 L375.40,188.48 L375.80,183.42 L376.20,183.14 L376.60,185.16 L377.00,182.66 L377.40,182.45 L377.80,179.96 L378.20,185.09 L378.60,179.88 L379.00,183.86 L379.40,178.99 L379.80,185.32 L380.20,179.96 L380.60,184.67 L381.00,178.53 L381.40,181.42 L381.80,185.49 L382.20,180.48 L382.60,182.67 L383.00,181.29 L383.40,176.67 L383.80,183.26 L384.20,183.56 L384.60,179.68 L385.00,183.91 L385.40,180.45 L385.80,179.92 L386.20,182.46 L386.60,180.71 L387.00,188.20 L387.40,178.50 L387.80,184.27 L388.20,184.89 L388.60,177.41 L389.00,178.02 L389.40,183.80 L389.80,181.16 L390.20,183.33 L390.60,185.23 L391.00,181.41 L391.40,179.66 L391.80,175.46 L392.20,182.85 L392.60,179.98 L393.00,183.11 L393.40,182.89 L393.80,178.81 L394.20,186.64 L394.60,185.02 L395.00,184.42 L395.40,179.29 L395.80,181.24 L396.20,180.88 L396.60,181.21 L397.00,179.41 L397.40,183.33 L397.80,182.81 L398.20,183.14 L398.60,180.94 L399.00,185.46 L399.40,182.68 L399.80,175.30 L400.20,180.58 L400.60,182.04 L401.00,184.61 L401.40,181.41 L401.80,181.53 L402.20,180.49 L402.60,183.83 L403.00,181.01 L403.40,180.61 L403.80,180.26 L404.20,183.52 L404.60,180.77 L405.00,177.89 L405.40,183.67 L405.80,180.33 L406.20,182.99 L406.60,183.02 L407.00,185.11 L407.40,184.70 L407.80,180.61 L408.20,181.64 L408.60,178.80 L409.00,186.27 L409.40,183.15 L409.80,185.54 L410.20,181.22 L410.60,176.85 L411.00,185.87 L411.40,182.24 L411.80,182.33 L412.20,182.13 L412.60,183.61 L413.00,183.32 L413.40,177.96 L413.80,184.70 L414.20,180.62 L414.60,180.77 L415.00,186.30 L415.40,184.26 L415.80,181.08 L416.20,177.25 L416.60,182.33 L417.00,183.27 L417.40,181.70 L417.80,178.76 L418.20,179.90 L418.60,178.72 L419.00,182.42 L419.40,183.94 L419.80,184.45 L420.20,180.02 L420.60,182.45 L421.00,183.25 L421.40,180.56 L421.80,181.46 L422.20,187.18 L422.60,182.34 L423.00,184.04 L423.40,180.72 L423.80,181.91 L424.20,177.48 L424.60,181.73 L425.00,184.79 L425.40,187.07 L425.80,184.79 L426.20,183.50 L426.60,181.90 L427.00,180.25 L427.40,181.35 L427.80,183.29 L428.20,179.76 L428.60,184.08 L429.00,179.25 L429.40,177.24 L429.80,179.16 L430.20,177.51 L430.60,178.25 L431.00,184.55 L431.40,181.19 L431.80,182.24 L432.20,184.60 L432.60,184.85 L433.00,180.40 L433.40,185.01 L433.80,182.63 L434.20,181.66 L434.60,182.76 L435.00,178.05 L435.40,179.65 L435.80,181.35 L436.20,183.16 L436.60,180.68 L437.00,181.29 L437.40,184.05 L437.80,185.16 L438.20,183.53 L438.60,184.78 L439.00,180.56 L439.40,180.80 L439.80,182.37 L440.20,180.80 L440.60,180.28 L441.00,185.71 L441.40,181.04 L441.80,179.11 L442.20,182.76 L442.60,186.15 L443.00,181.73 L443.40,184.62 L443.80,180.41 L444.20,180.27 L444.60,179.76 L445.00,181.13 L445.40,186.12 L445.80,178.57 L446.20,185.60 L446.60,178.93 L447.00,180.88 L447.40,183.57 L447.80,183.04 L448.20,182.16 L448.60,177.29 L449.00,182.35 L449.40,178.86 L449.80,187.90 L450.20,180.88 L450.60,181.89 L451.00,178.52 L451.40,180.20 L451.80,178.15 L452.20,183.87 L452.60,180.73 L453.00,182.80 L453.40,179.65 L453.80,180.11 L454.20,184.61 L454.60,178.91 L455.00,176.82 L455.40,182.38 L455.80,178.47 L456.20,180.23 L456.60,183.63 L457.00,179.27 L457.40,183.54 L457.80,179.60 L458.20,185.07 L458.60,184.65 L459.00,180.12 L459.40,180.76 L459.80,179.20 L460.20,181.79 L460.60,184.18 L461.00,177.63 L461.40,183.58 L461.80,177.93 L462.20,179.10" fill="none" stroke="#c2c2c2" stroke-width="0.9" />
<path d="M59.80,336.73 L60.30,331.85 L60.80,327.15 L61.30,322.62 L61.80,318.24 L62.30,314.02 L62.80,309.94 L63.30,306.01 L63.80,302.22 L64.30,298.55 L64.80,295.02 L65.30,291.61 L65.80,288.33 L66.30,285.15 L66.80,282.09 L67.30,279.13 L67.80,276.28 L68.30,273.53 L68.80,270.87 L69.30,268.31 L69.80,265.84 L70.30,263.45 L70.80,261.15 L71.30,258.92 L71.80,256.78 L72.30,254.70 L72.80,252.70 L73.30,250.78 L73.80,248.91 L74.30,247.11 L74.80,245.38 L75.30,243.70 L75.80,242.09 L76.30,240.53 L76.80,239.02 L77.30,237.56 L77.80,236.16 L78.30,234.80 L78.80,233.49 L79.30,232.23 L79.80,231.01 L80.30,229.83 L80.80,228.69 L81.30,227.60 L81.80,226.55 L82.30,225.55 L82.80,224.58 L83.30,223.65 L83.80,222.75 L84.30,221.89 L84.80,221.05 L85.30,220.24 L85.80,219.46 L86.30,218.71 L86.80,217.99 L87.30,217.29 L87.80,216.61 L88.30,215.96 L88.80,215.33 L89.30,214.72 L89.80,214.14 L90.30,213.57 L90.80,213.03 L91.30,212.50 L91.80,211.99 L92.30,211.50 L92.80,211.03 L93.30,210.58 L93.80,210.14 L94.30,209.71 L94.80,209.30 L95.30,208.91 L95.80,208.53 L96.30,208.16 L96.80,207.80 L97.30,207.46 L97.80,207.13 L98.30,206.81 L98.80,206.50 L99.30,206.21 L99.80,205.92 L100.30,205.62 L100.80,205.31 L101.30,205.01 L101.80,204.72 L102.30,204.44 L102.80,204.16 L103.30,203.90 L103.80,203.64 L104.30,203.39 L104.80,203.15 L105.30,202.91 L105.80,202.69 L106.30,202.46 L106.80,202.25 L107.30,202.04 L107.80,201.84 L108.30,201.64 L108.80,201.45 L109.30,201.26 L109.80,201.08 L110.30,200.90 L110.80,200.73 L111.30,200.57 L111.80,200.40 L112.30,200.25 L112.80,200.09 L113.30,199.94 L113.80,199.80 L114.30,199.66 L114.80,199.52 L115.30,199.38 L115.80,199.25 L116.30,199.13 L116.80,199.00 L117.30,198.88 L117.80,198.76 L118.30,198.65 L118.80,198.53 L119.30,198.42 L119.80,198.32 L120.30,198.21 L120.80,198.11 L121.30,198.01 L121.80,197.91 L122.30,197.82 L122.80,197.72 L123.30,197.63 L123.80,197.54 L124.30,197.46 L124.80,197.37 L125.30,197.29 L125.80,197.21 L126.30,197.13 L126.80,197.05 L127.30,196.97 L127.80,196.90 L128.30,196.83 L128.80,196.75 L129.30,196.68 L129.80,196.62 L130.30,196.55 L130.80,196.48 L131.30,196.42 L131.80,196.35 L132.30,196.29 L132.80,196.23 L133.30,196.17 L133.80,196.11 L134.30,196.05 L134.80,195.99 L135.30,195.94 L135.80,195.88 L136.30,195.83 L136.80,195.77 L137.30,195.72 L137.80,195.67 L138.30,195.62 L138.80,195.57 L139.30,195.52 L139.80,195.47 L140.30,195.42 L140.80,195.38 L141.30,195.33 L141.80,195.28 L142.30,195.24 L142.80,195.20 L143.30,195.15 L143.80,195.11 L144.30,195.07 L144.80,195.02 L145.30,194.98 L145.80,194.94 L146.30,194.90 L146.80,194.86 L147.30,194.82 L147.80,194.79 L148.30,194.75 L148.80,194.71 L149.30,194.67 L149.80,194.64 L150.30,194.59 L150.80,194.53 L151.30,194.48 L151.80,194.43 L152.30,194.37 L152.80,194.32 L153.30,194.27 L153.80,194.22 L154.30,194.17 L154.80,194.11 L155.30,194.06 L155.80,194.01 L156.30,193.96 L156.80,193.91 L157.30,193.86 L157.80,193.81 L158.30,193.77 L158.80,193.72 L159.30,193.67 L159.80,193.62 L160.30,193.57 L160.80,193.53 L161.30,193.48 L161.80,193.43 L162.30,193.39 L162.80,193.34 L163.30,193.30 L163.80,193.25 L164.30,193.20 L164.80,193.16 L165.30,193.11 L165.80,193.07 L166.30,193.03 L166.80,192.98 L167.30,192.94 L167.80,192.89 L168.30,192.85 L168.80,192.81 L169.30,192.77 L169.80,192.72 L170.30,192.68 L170.80,192.64 L171.30,192.60 L171.80,192.55 L172.30,192.51 L172.80,192.47 L173.30,192.43 L173.80,192.39 L174.30,192.35 L174.80,192.31 L175.30,192.27 L175.80,192.23 L176.30,192.19 L176.80,192.15 L177.30,192.11 L177.80,192.07 L178.30,192.03 L178.80,191.99 L179.30,191.95 L179.80,191.91 L180.30,191.87 L180.80,191.84 L181.30,191.80 L181.80,191.76 L182.30,191.72 L182.80,191.68 L183.30,191.65 L183.80,191.61 L184.30,191.57 L184.80,191.54 L185.30,191.50 L185.80,191.46 L186.30,191.43 L186.80,191.39 L187.30,191.35 L187.80,191.32 L188.30,191.28 L188.80,191.24 L189.30,191.21 L189.80,191.17 L190.30,191.14 L190.80,191.10 L191.30,191.07 L191.80,191.03 L192.30,191.00 L192.80,190.96 L193.30,190.93 L193.80,190.90 L194.30,190.86 L194.80,190.83 L195.30,190.79 L195.80,190.76 L196.30,190.73 L196.80,190.69 L197.30,190.66 L197.80,190.63 L198.30,190.59 L198.80,190.56 L199.30,190.53 L199.80,190.49 L200.30,190.46 L200.80,190.43 L201.30,190.40 L201.80,190.36 L202.30,190.33 L202.80,190.30 L203.30,190.27 L203.80,190.24 L204.30,190.21 L204.80,190.17 L205.30,190.14 L205.80,190.11 L206.30,190.08 L206.80,190.05 L207.30,190.02 L207.80,189.99 L208.30,189.96 L208.80,189.93 L209.30,189.90 L209.80,189.87 L210.30,189.84 L210.80,189.81 L211.30,189.78 L211.80,189.75 L212.30,189.72 L212.80,189.69 L213.30,189.66 L213.80,189.63 L214.30,189.60 L214.80,189.57 L215.30,189.54 L215.80,189.51 L216.30,189.48 L216.80,189.45 L217.30,189.43 L217.80,189.40 L218.30,189.37 L218.80,189.34 L219.30,189.31 L219.80,189.28 L220.30,189.26 L220.80,189.23 L221.30,189.20 L221.80,189.17 L222.30,189.14 L222.80,189.12 L223.30,189.09 L223.80,189.06 L224.30,189.04 L224.80,189.01 L225.30,188.98 L225.80,188.95 L226.30,188.93 L226.80,188.90 L227.30,188.87 L227.80,188.85 L228.30,188.82 L228.80,188.80 L229.30,188.77 L229.80,188.74 L230.30,188.72 L230.80,188.69 L231.30,188.66 L231.80,188.63 L232.30,188.60 L232.80,188.57 L233.30,188.55 L233.80,188.52 L234.30,188.49 L234.80,188.46 L235.30,188.43 L235.80,188.41 L236.30,188.38 L236.80,188.35 L237.30,188.32 L237.80,188.30 L238.30,188.27 L238.80,188.24 L239.30,188.22 L239.80,188.19 L240.30,188.16 L240.80,188.14 L241.30,188.11 L241.80,188.08 L242.30,188.06 L242.80,188.03 L243.30,188.00 L243.80,187.98 L244.30,187.95 L244.80,187.93 L245.30,187.90 L245.80,187.87 L246.30,187.85 L246.80,187.82 L247.30,187.80 L247.80,187.77 L248.30,187.75 L248.80,187.72 L249.30,187.69 L249.80,187.67 L250.30,187.64 L250.80,187.62 L251.30,187.59 L251.80,187.57 L252.30,187.54 L252.80,187.52 L253.30,187.49 L253.80,187.47 L254.30,187.45 L254.80,187.42 L255.30,187.40 L255.80,187.37 L256.30,187.35 L256.80,187.32 L257.30,187.30 L257.80,187.28 L258.30,187.25 L258.80,187.23 L259.30,187.20 L259.80,187.18 L260.30,187.16 L260.80,187.13 L261.30,187.11 L261.80,187.09 L262.30,187.06 L262.80,187.04 L263.30,187.02 L263.80,186.99 L264.30,186.97 L264.80,186.95 L265.30,186.92 L265.80,186.90 L266.30,186.88 L266.80,186.86 L267.30,186.83 L267.80,186.81 L268.30,186.79 L268.80,186.77 L269.30,186.74 L269.80,186.72 L270.30,186.70 L270.80,186.68 L271.30,186.65 L271.80,186.63 L272.30,186.61 L272.80,186.59 L273.30,186.57 L273.80,186.54 L274.30,186.52 L274.80,186.50 L275.30,186.48 L275.80,186.46 L276.30,186.44 L276.80,186.41 L277.30,186.39 L277.80,186.37 L278.30,186.35 L278.80,186.33 L279.30,186.31 L279.80,186.29 L280.30,186.27 L280.80,186.25 L281.30,186.22 L281.80,186.20 L282.30,186.18 L282.80,186.16 L283.30,186.14 L283.80,186.12 L284.30,186.10 L284.80,186.08 L285.30,186.06 L285.80,186.04 L286.30,186.02 L286.80,186.00 L287.30,185.98 L287.80,185.96 L288.30,185.94 L288.80,185.92 L289.30,185.90 L289.80,185.88 L290.30,185.86 L290.80,185.84 L291.30,185.82 L291.80,185.80 L292.30,185.78 L292.80,185.76 L293.30,185.74 L293.80,185.72 L294.30,185.70 L294.80,185.68 L295.30,185.66 L295.80,185.64 L296.30,185.62 L296.80,185.60 L297.30,185.59 L297.80,185.57 L298.30,185.55 L298.80,185.53 L299.30,185.51 L299.80,185.49 L300.30,185.47 L300.80,185.46 L301.30,185.44 L301.80,185.43 L302.30,185.41 L302.80,185.40 L303.30,185.38 L303.80,185.37 L304.30,185.35 L304.80,185.34 L305.30,185.32 L305.80,185.31 L306.30,185.29 L306.80,185.28 L307.30,185.26 L307.80,185.25 L308.30,185.24 L308.80,185.22 L309.30,185.21 L309.80,185.19 L310.30,185.18 L310.80,185.16 L311.30,185.15 L311.80,185.14 L312.30,185.12 L312.80,185.11 L313.30,185.09 L313.80,185.08 L314.30,185.07 L314.80,185.05 L315.30,185.04 L315.80,185.02 L316.30,185.01 L316.80,185.00 L317.30,184.98 L317.80,184.97 L318.30,184.96 L318.80,184.94 L319.30,184.93 L319.80,184.91 L320.30,184.90 L320.80,184.89 L321.30,184.87 L321.80,184.86 L322.30,184.85 L322.80,184.83 L323.30,184.82 L323.80,184.81 L324.30,184.80 L324.80,184.78 L325.30,184.77 L325.80,184.76 L326.30,184.74 L326.80,184.73 L327.30,184.72 L327.80,184.70 L328.30,184.69 L328.80,184.68 L329.30,184.67 L329.80,184.65 L330.30,184.64 L330.80,184.63 L331.30,184.62 L331.80,184.60 L332.30,184.59 L332.80,184.58 L333.30,184.57 L333.80,184.55 L334.30,184.54 L334.80,184.53 L335.30,184.52 L335.80,184.51 L336.30,184.49 L336.80,184.48 L337.30,184.47 L337.80,184.46 L338.30,184.44 L338.80,184.43 L339.30,184.42 L339.80,184.41 L340.30,184.40 L340.80,184.39 L341.30,184.37 L341.80,184.36 L342.30,184.35 L342.80,184.34 L343.30,184.33 L343.80,184.31 L344.30,184.30 L344.80,184.29 L345.30,184.28 L345.80,184.27 L346.30,184.26 L346.80,184.25 L347.30,184.23 L347.80,184.22 L348.30,184.21 L348.80,184.20 L349.30,184.19 L349.80,184.18 L350.30,184.17 L350.80,184.16 L351.30,184.14 L351.80,184.13 L352.30,184.12 L352.80,184.11 L353.30,184.10 L353.80,184.09 L354.30,184.08 L354.80,184.07 L355.30,184.06 L355.80,184.05 L356.30,184.03 L356.80,184.02 L357.30,184.01 L357.80,184.00 L358.30,183.99 L358.80,183.98 L359.30,183.97 L359.80,183.96 L360.30,183.95 L360.80,183.94 L361.30,183.93 L361.80,183.92 L362.30,183.91 L362.80,183.90 L363.30,183.89 L363.80,183.88 L364.30,183.87 L364.80,183.86 L365.30,183.84 L365.80,183.83 L366.30,183.82 L366.80,183.81 L367.30,183.80 L367.80,183.79 L368.30,183.78 L368.80,183.77 L369.30,183.76 L369.80,183.75 L370.30,183.74 L370.80,183.73 L371.30,183.72 L371.80,183.71 L372.30,183.70 L372.80,183.69 L373.30,183.68 L373.80,183.67 L374.30,183.66 L374.80,183.65 L375.30,183.64 L375.80,183.64 L376.30,183.63 L376.80,183.62 L377.30,183.61 L377.80,183.60 L378.30,183.59 L378.80,183.58 L379.30,183.57 L379.80,183.56 L380.30,183.55 L380.80,183.54 L381.30,183.53 L381.80,183.52 L382.30,183.51 L382.80,183.50 L383.30,183.49 L383.80,183.48 L384.30,183.47 L384.80,183.46 L385.30,183.46 L385.80,183.45 L386.30,183.44 L386.80,183.43 L387.30,183.42 L387.80,183.41 L388.30,183.40 L388.80,183.39 L389.30,183.38 L389.80,183.37 L390.30,183.36 L390.80,183.35 L391.30,183.35 L391.80,183.34 L392.30,183.33 L392.80,183.32 L393.30,183.31 L393.80,183.30 L394.30,183.29 L394.80,183.28 L395.30,183.27 L395.80,183.27 L396.30,183.26 L396.80,183.25 L397.30,183.24 L397.80,183.23 L398.30,183.22 L398.80,183.21 L399.30,183.21 L399.80,183.20 L400.30,183.19 L400.80,183.18 L401.30,183.17 L401.80,183.16 L402.30,183.15 L402.80,183.15 L403.30,183.14 L403.80,183.13 L404.30,183.12 L404.80,183.11 L405.30,183.10 L405.80,183.09 L406.30,183.09 L406.80,183.08 L407.30,183.07 L407.80,183.06 L408.30,183.05 L408.80,183.05 L409.30,183.04 L409.80,183.03 L410.30,183.02 L410.80,183.01 L411.30,183.00 L411.80,183.00 L412.30,182.99 L412.80,182.98 L413.30,182.97 L413.80,182.96 L414.30,182.96 L414.80,182.95 L415.30,182.94 L415.80,182.93 L416.30,182.92 L416.80,182.92 L417.30,182.91 L417.80,182.90 L418.30,182.89 L418.80,182.88 L419.30,182.88 L419.80,182.87 L420.30,182.86 L420.80,182.85 L421.30,182.85 L421.80,182.84 L422.30,182.83 L422.80,182.82 L423.30,182.81 L423.80,182.81 L424.30,182.80 L424.80,182.79 L425.30,182.78 L425.80,182.78 L426.30,182.77 L426.80,182.76 L427.30,182.75 L427.80,182.75 L428.30,182.74 L428.80,182.73 L429.30,182.72 L429.80,182.72 L430.30,182.71 L430.80,182.70 L431.30,182.69 L431.80,182.69 L432.30,182.68 L432.80,182.67 L433.30,182.66 L433.80,182.66 L434.30,182.65 L434.80,182.64 L435.30,182.63 L435.80,182.63 L436.30,182.62 L436.80,182.61 L437.30,182.60 L437.80,182.60 L438.30,182.59 L438.80,182.58 L439.30,182.58 L439.80,182.57 L440.30,182.56 L440.80,182.55 L441.30,182.55 L441.80,182.54 L442.30,182.53 L442.80,182.53 L443.30,182.52 L443.80,182.51 L444.30,182.50 L444.80,182.50 L445.30,182.49 L445.80,182.48 L446.30,182.48 L446.80,182.47 L447.30,182.46 L447.80,182.46 L448.30,182.45 L448.80,182.44 L449.30,182.43 L449.80,182.43 L450.30,182.42 L450.80,182.41 L451.30,182.41 L451.80,182.40 L452.30,182.39 L452.80,182.39 L453.30,182.38 L453.80,182.37 L454.30,182.37 L454.80,182.36 L455.30,182.35 L455.80,182.35 L456.30,182.34 L456.80,182.33 L457.30,182.33 L457.80,182.32 L458.30,182.31 L458.80,182.31 L459.30,182.30 L459.80,182.29 L460.30,182.29 L460.80,182.28 L461.30,182.27 L461.80,182.27 L462.30,182.26" fill="none" stroke="#959595" stroke-width="1.9" />
<path d="M58.10,335.61 L58.60,330.74 L59.10,326.03 L59.60,321.50 L60.10,317.12 L60.60,312.89 L61.10,308.81 L61.60,304.87 L62.10,301.07 L62.60,297.40 L63.10,293.86 L63.60,290.44 L64.10,287.14 L64.60,283.96 L65.10,280.88 L65.60,277.92 L66.10,275.05 L66.60,272.28 L67.10,269.61 L67.60,267.03 L68.10,264.54 L68.60,262.14 L69.10,259.82 L69.60,257.57 L70.10,255.41 L70.60,253.32 L71.10,251.30 L71.60,249.35 L72.10,247.47 L72.60,245.65 L73.10,243.89 L73.60,242.19 L74.10,240.55 L74.60,238.97 L75.10,237.44 L75.60,235.96 L76.10,234.53 L76.60,233.15 L77.10,231.81 L77.60,230.53 L78.10,229.28 L78.60,228.08 L79.10,226.91 L79.60,225.79 L80.10,224.70 L80.60,223.65 L81.10,222.63 L81.60,221.65 L82.10,220.70 L82.60,219.78 L83.10,218.89 L83.60,218.03 L84.10,217.20 L84.60,216.39 L85.10,215.62 L85.60,214.86 L86.10,214.13 L86.60,213.43 L87.10,212.75 L87.60,212.09 L88.10,211.45 L88.60,210.83 L89.10,210.23 L89.60,209.65 L90.10,209.09 L90.60,208.54 L91.10,208.01 L91.60,207.50 L92.10,207.01 L92.60,206.53 L93.10,206.06 L93.60,205.61 L94.10,205.18 L94.60,204.75 L95.10,204.34 L95.60,203.94 L96.10,203.56 L96.60,203.18 L97.10,202.82 L97.60,202.47 L98.10,202.13 L98.60,201.79 L99.10,201.47 L99.60,201.16 L100.10,200.85 L100.60,200.56 L101.10,200.27 L101.60,199.99 L102.10,199.72 L102.60,199.46 L103.10,199.20 L103.60,198.95 L104.10,198.71 L104.60,198.47 L105.10,198.24 L105.60,198.02 L106.10,197.80 L106.60,197.59 L107.10,197.38 L107.60,197.18 L108.10,196.99 L108.60,196.80 L109.10,196.61 L109.60,196.43 L110.10,196.25 L110.60,196.08 L111.10,195.91 L111.60,195.75 L112.10,195.59 L112.60,195.43 L113.10,195.28 L113.60,195.13 L114.10,194.98 L114.60,194.84 L115.10,194.70 L115.60,194.57 L116.10,194.43 L116.60,194.30 L117.10,194.18 L117.60,194.05 L118.10,193.93 L118.60,193.81 L119.10,193.69 L119.60,193.58 L120.10,193.46 L120.60,193.35 L121.10,193.25 L121.60,193.14 L122.10,193.04 L122.60,192.93 L123.10,192.83 L123.60,192.74 L124.10,192.64 L124.60,192.54 L125.10,192.45 L125.60,192.36 L126.10,192.27 L126.60,192.18 L127.10,192.09 L127.60,192.01 L128.10,191.92 L128.60,191.84 L129.10,191.76 L129.60,191.68 L130.10,191.60 L130.60,191.52 L131.10,191.45 L131.60,191.37 L132.10,191.30 L132.60,191.22 L133.10,191.15 L133.60,191.08 L134.10,191.01 L134.60,190.94 L135.10,190.87 L135.60,190.80 L136.10,190.73 L136.60,190.67 L137.10,190.60 L137.60,190.54 L138.10,190.47 L138.60,190.41 L139.10,190.35 L139.60,190.29 L140.10,190.23 L140.60,190.17 L141.10,190.11 L141.60,190.05 L142.10,189.99 L142.60,189.93 L143.10,189.87 L143.60,189.82 L144.10,189.76 L144.60,189.71 L145.10,189.65 L145.60,189.60 L146.10,189.54 L146.60,189.49 L147.10,189.44 L147.60,189.38 L148.10,189.33 L148.60,189.28 L149.10,189.23 L149.60,189.18 L150.10,189.13 L150.60,189.08 L151.10,189.03 L151.60,188.98 L152.10,188.93 L152.60,188.88 L153.10,188.83 L153.60,188.79 L154.10,188.74 L154.60,188.69 L155.10,188.65 L155.60,188.60 L156.10,188.55 L156.60,188.51 L157.10,188.46 L157.60,188.42 L158.10,188.37 L158.60,188.33 L159.10,188.29 L159.60,188.24 L160.10,188.20 L160.60,188.16 L161.10,188.11 L161.60,188.07 L162.10,188.03 L162.60,187.99 L163.10,187.94 L163.60,187.90 L164.10,187.86 L164.60,187.82 L165.10,187.78 L165.60,187.74 L166.10,187.70 L166.60,187.66 L167.10,187.62 L167.60,187.58 L168.10,187.54 L168.60,187.50 L169.10,187.46 L169.60,187.42 L170.10,187.38 L170.60,187.34 L171.10,187.31 L171.60,187.27 L172.10,187.23 L172.60,187.19 L173.10,187.16 L173.60,187.12 L174.10,187.08 L174.60,187.04 L175.10,187.01 L175.60,186.97 L176.10,186.94 L176.60,186.90 L177.10,186.86 L177.60,186.83 L178.10,186.79 L178.60,186.76 L179.10,186.72 L179.60,186.69 L180.10,186.65 L180.60,186.62 L181.10,186.58 L181.60,186.55 L182.10,186.51 L182.60,186.48 L183.10,186.45 L183.60,186.41 L184.10,186.38 L184.60,186.35 L185.10,186.31 L185.60,186.28 L186.10,186.25 L186.60,186.21 L187.10,186.18 L187.60,186.15 L188.10,186.12 L188.60,186.08 L189.10,186.05 L189.60,186.02 L190.10,185.99 L190.60,185.96 L191.10,185.93 L191.60,185.89 L192.10,185.86 L192.60,185.83 L193.10,185.80 L193.60,185.77 L194.10,185.74 L194.60,185.71 L195.10,185.68 L195.60,185.65 L196.10,185.62 L196.60,185.59 L197.10,185.56 L197.60,185.53 L198.10,185.50 L198.60,185.47 L199.10,185.44 L199.60,185.41 L200.10,185.38 L200.60,185.35 L201.10,185.32 L201.60,185.30 L202.10,185.27 L202.60,185.24 L203.10,185.21 L203.60,185.18 L204.10,185.15 L204.60,185.13 L205.10,185.10 L205.60,185.07 L206.10,185.04 L206.60,185.02 L207.10,184.99 L207.60,184.96 L208.10,184.93 L208.60,184.91 L209.10,184.88 L209.60,184.85 L210.10,184.83 L210.60,184.80 L211.10,184.77 L211.60,184.75 L212.10,184.72 L212.60,184.69 L213.10,184.67 L213.60,184.64 L214.10,184.62 L214.60,184.59 L215.10,184.57 L215.60,184.54 L216.10,184.52 L216.60,184.49 L217.10,184.46 L217.60,184.44 L218.10,184.41 L218.60,184.39 L219.10,184.37 L219.60,184.34 L220.10,184.32 L220.60,184.29 L221.10,184.27 L221.60,184.24 L222.10,184.22 L222.60,184.19 L223.10,184.17 L223.60,184.15 L224.10,184.12 L224.60,184.10 L225.10,184.08 L225.60,184.05 L226.10,184.03 L226.60,184.01 L227.10,183.98 L227.60,183.96 L228.10,183.94 L228.60,183.91 L229.10,183.89 L229.60,183.87 L230.10,183.85 L230.60,183.82 L231.10,183.80 L231.60,183.78 L232.10,183.76 L232.60,183.73 L233.10,183.71 L233.60,183.69 L234.10,183.67 L234.60,183.65 L235.10,183.63 L235.60,183.60 L236.10,183.58 L236.60,183.56 L237.10,183.54 L237.60,183.52 L238.10,183.50 L238.60,183.48 L239.10,183.46 L239.60,183.43 L240.10,183.41 L240.60,183.39 L241.10,183.37 L241.60,183.35 L242.10,183.33 L242.60,183.31 L243.10,183.29 L243.60,183.27 L244.10,183.25 L244.60,183.23 L245.10,183.21 L245.60,183.19 L246.10,183.17 L246.60,183.15 L247.10,183.13 L247.60,183.11 L248.10,183.09 L248.60,183.07 L249.10,183.05 L249.60,183.03 L250.10,183.01 L250.60,183.00 L251.10,182.98 L251.60,182.96 L252.10,182.94 L252.60,182.92 L253.10,182.90 L253.60,182.88 L254.10,182.86 L254.60,182.85 L255.10,182.83 L255.60,182.81 L256.10,182.79 L256.60,182.77 L257.10,182.75 L257.60,182.74 L258.10,182.72 L258.60,182.70 L259.10,182.68 L259.60,182.66 L260.10,182.65 L260.60,182.63 L261.10,182.61 L261.60,182.59 L262.10,182.58 L262.60,182.56 L263.10,182.54 L263.60,182.52 L264.10,182.51 L264.60,182.49 L265.10,182.47 L265.60,182.46 L266.10,182.44 L266.60,182.42 L267.10,182.41 L267.60,182.39 L268.10,182.37 L268.60,182.36 L269.10,182.34 L269.60,182.32 L270.10,182.31 L270.60,182.29 L271.10,182.27 L271.60,182.26 L272.10,182.24 L272.60,182.23 L273.10,182.21 L273.60,182.19 L274.10,182.18 L274.60,182.16 L275.10,182.15 L275.60,182.13 L276.10,182.12 L276.60,182.10 L277.10,182.08 L277.60,182.07 L278.10,182.05 L278.60,182.04 L279.10,182.02 L279.60,182.01 L280.10,181.99 L280.60,181.98 L281.10,181.96 L281.60,181.95 L282.10,181.93 L282.60,181.92 L283.10,181.90 L283.60,181.89 L284.10,181.87 L284.60,181.86 L285.10,181.84 L285.60,181.83 L286.10,181.82 L286.60,181.80 L287.10,181.79 L287.60,181.77 L288.10,181.76 L288.60,181.74 L289.10,181.73 L289.60,181.72 L290.10,181.70 L290.60,181.69 L291.10,181.67 L291.60,181.66 L292.10,181.65 L292.60,181.63 L293.10,181.62 L293.60,181.61 L294.10,181.59 L294.60,181.58 L295.10,181.56 L295.60,181.55 L296.10,181.54 L296.60,181.52 L297.10,181.51 L297.60,181.50 L298.10,181.49 L298.60,181.47 L299.10,181.46 L299.60,181.45 L300.10,181.43 L300.60,181.42 L301.10,181.41 L301.60,181.39 L302.10,181.38 L302.60,181.37 L303.10,181.36 L303.60,181.34 L304.10,181.33 L304.60,181.32 L305.10,181.31 L305.60,181.29 L306.10,181.28 L306.60,181.27 L307.10,181.26 L307.60,181.24 L308.10,181.23 L308.60,181.22 L309.10,181.21 L309.60,181.20 L310.10,181.18 L310.60,181.17 L311.10,181.16 L311.60,181.15 L312.10,181.14 L312.60,181.12 L313.10,181.11 L313.60,181.10 L314.10,181.09 L314.60,181.08 L315.10,181.07 L315.60,181.06 L316.10,181.04 L316.60,181.03 L317.10,181.02 L317.60,181.01 L318.10,181.00 L318.60,180.99 L319.10,180.98 L319.60,180.96 L320.10,180.95 L320.60,180.94 L321.10,180.93 L321.60,180.92 L322.10,180.91 L322.60,180.90 L323.10,180.89 L323.60,180.88 L324.10,180.87 L324.60,180.85 L325.10,180.84 L325.60,180.83 L326.10,180.82 L326.60,180.81 L327.10,180.80 L327.60,180.79 L328.10,180.78 L328.60,180.77 L329.10,180.76 L329.60,180.75 L330.10,180.74 L330.60,180.73 L331.10,180.72 L331.60,180.71 L332.10,180.70 L332.60,180.69 L333.10,180.68 L333.60,180.67 L334.10,180.66 L334.60,180.65 L335.10,180.64 L335.60,180.63 L336.10,180.62 L336.60,180.61 L337.10,180.60 L337.60,180.59 L338.10,180.58 L338.60,180.57 L339.10,180.56 L339.60,180.55 L340.10,180.54 L340.60,180.53 L341.10,180.52 L341.60,180.51 L342.10,180.50 L342.60,180.49 L343.10,180.48 L343.60,180.47 L344.10,180.46 L344.60,180.46 L345.10,180.45 L345.60,180.44 L346.10,180.43 L346.60,180.42 L347.10,180.41 L347.60,180.40 L348.10,180.39 L348.60,180.38 L349.10,180.37 L349.60,180.36 L350.10,180.36 L350.60,180.35 L351.10,180.34 L351.60,180.33 L352.10,180.32 L352.60,180.31 L353.10,180.30 L353.60,180.29 L354.10,180.28 L354.60,180.28 L355.10,180.27 L355.60,180.26 L356.10,180.25 L356.60,180.24 L357.10,180.23 L357.60,180.22 L358.10,180.22 L358.60,180.21 L359.10,180.20 L359.60,180.19 L360.10,180.18 L360.60,180.17 L361.10,180.17 L361.60,180.16 L362.10,180.15 L362.60,180.14 L363.10,180.13 L363.60,180.13 L364.10,180.12 L364.60,180.11 L365.10,180.10 L365.60,180.09 L366.10,180.09 L366.60,180.08 L367.10,180.07 L367.60,180.06 L368.10,180.05 L368.60,180.05 L369.10,180.04 L369.60,180.03 L370.10,180.02 L370.60,180.01 L371.10,180.01 L371.60,180.00 L372.10,179.99 L372.60,179.98 L373.10,179.98 L373.60,179.97 L374.10,179.96 L374.60,179.95 L375.10,179.95 L375.60,179.94 L376.10,179.93 L376.60,179.92 L377.10,179.92 L377.60,179.91 L378.10,179.90 L378.60,179.89 L379.10,179.89 L379.60,179.88 L380.10,179.87 L380.60,179.87 L381.10,179.86 L381.60,179.85 L382.10,179.84 L382.60,179.84 L383.10,179.83 L383.60,179.82 L384.10,179.82 L384.60,179.81 L385.10,179.80 L385.60,179.79 L386.10,179.79 L386.60,179.78 L387.10,179.77 L387.60,179.77 L388.10,179.76 L388.60,179.75 L389.10,179.75 L389.60,179.74 L390.10,179.73 L390.60,179.73 L391.10,179.72 L391.60,179.71 L392.10,179.71 L392.60,179.70 L393.10,179.69 L393.60,179.69 L394.10,179.68 L394.60,179.67 L395.10,179.67 L395.60,179.66 L396.10,179.65 L396.60,179.65 L397.10,179.64 L397.60,179.63 L398.10,179.63 L398.60,179.62 L399.10,179.61 L399.60,179.61 L400.10,179.60 L400.60,179.59 L401.10,179.59 L401.60,179.58 L402.10,179.58 L402.60,179.57 L403.10,179.56 L403.60,179.56 L404.10,179.55 L404.60,179.54 L405.10,179.54 L405.60,179.53 L406.10,179.53 L406.60,179.52 L407.10,179.51 L407.60,179.51 L408.10,179.50 L408.60,179.50 L409.10,179.49 L409.60,179.48 L410.10,179.48 L410.60,179.47 L411.10,179.47 L411.60,179.46 L412.10,179.45 L412.60,179.45 L413.10,179.44 L413.60,179.44 L414.10,179.43 L414.60,179.43 L415.10,179.42 L415.60,179.41 L416.10,179.41 L416.60,179.40 L417.10,179.40 L417.60,179.39 L418.10,179.39 L418.60,179.38 L419.10,179.37 L419.60,179.37 L420.10,179.36 L420.60,179.36 L421.10,179.35 L421.60,179.35 L422.10,179.34 L422.60,179.33 L423.10,179.33 L423.60,179.32 L424.10,179.32 L424.60,179.31 L425.10,179.31 L425.60,179.30 L426.10,179.30 L426.60,179.29 L427.10,179.29 L427.60,179.28 L428.10,179.28 L428.60,179.27 L429.10,179.26 L429.60,179.26 L430.10,179.25 L430.60,179.25 L431.10,179.24 L431.60,179.24 L432.10,179.23 L432.60,179.23 L433.10,179.22 L433.60,179.22 L434.10,179.21 L434.60,179.21 L435.10,179.20 L435.60,179.20 L436.10,179.19 L436.60,179.19 L437.10,179.18 L437.60,179.18 L438.10,179.17 L438.60,179.17 L439.10,179.16 L439.60,179.16 L440.10,179.15 L440.60,179.15 L441.10,179.14 L441.60,179.14 L442.10,179.13 L442.60,179.13 L443.10,179.12 L443.60,179.12 L444.10,179.11 L444.60,179.11 L445.10,179.10 L445.60,179.10 L446.10,179.09 L446.60,179.09 L447.10,179.08 L447.60,179.08 L448.10,179.07 L448.60,179.07 L449.10,179.06 L449.60,179.06 L450.10,179.06 L450.60,179.05 L451.10,179.05 L451.60,179.04 L452.10,179.04 L452.60,179.03 L453.10,179.03 L453.60,179.02 L454.10,179.02 L454.60,179.01 L455.10,179.01 L455.60,179.00 L456.10,179.00 L456.60,179.00 L457.10,178.99 L457.60,178.99 L458.10,178.98 L458.60,178.98 L459.10,178.97 L459.60,178.97 L460.10,178.96 L460.60,178.96 L461.10,178.96 L461.60,178.95 L462.10,178.95" fill="none" stroke="#000" stroke-width="2.0" />
<line x1="86.60" y1="213.40" x2="93.50" y2="235.40" stroke="#000" stroke-width="2.0"/>
<line x1="81.50" y1="227.70" x2="92.60" y2="264.50" stroke="#9a9a9a" stroke-width="1.3"/>
<line x1="105.20" y1="316.00" x2="166.10" y2="316.00" stroke="#000" stroke-width="2.5"/>
<path d="M246.4,219.4 V307.3 H318.4" fill="none" stroke="#000" stroke-width="2.7" />
<line x1="242.30" y1="307.30" x2="246.40" y2="307.30" stroke="#000" stroke-width="2.7"/>
<line x1="242.30" y1="220.50" x2="246.40" y2="220.50" stroke="#000" stroke-width="2.2"/>
<line x1="242.30" y1="264.10" x2="246.40" y2="264.10" stroke="#000" stroke-width="2.2"/>
<line x1="270.00" y1="252.70" x2="270.00" y2="256.50" stroke="#000" stroke-width="2.8"/>
<rect x="259.5" y="255.5" width="21.00" height="51.80" fill="#000"/>
<line x1="298.30" y1="226.00" x2="298.30" y2="235.60" stroke="#000" stroke-width="2.8"/>
<rect x="289.50" y="236.00" width="17.60" height="71.30" fill="#808080" stroke="#000" stroke-width="2.8"/>
<path d="M363.0,219.6 V307.2 H435.5" fill="none" stroke="#000" stroke-width="2.7" />
<line x1="358.90" y1="307.20" x2="363.00" y2="307.20" stroke="#000" stroke-width="2.7"/>
<line x1="358.90" y1="220.70" x2="363.00" y2="220.70" stroke="#000" stroke-width="2.2"/>
<line x1="358.90" y1="263.90" x2="363.00" y2="263.90" stroke="#000" stroke-width="2.2"/>
<line x1="386.60" y1="244.20" x2="386.60" y2="249.70" stroke="#000" stroke-width="2.8"/>
<rect x="376.4" y="248.7" width="20.40" height="58.50" fill="#000"/>
<line x1="415.15" y1="251.70" x2="415.15" y2="255.70" stroke="#000" stroke-width="2.8"/>
<rect x="406.20" y="256.10" width="17.90" height="51.10" fill="#808080" stroke="#000" stroke-width="2.8"/>
<rect x="467.9" y="208" width="179.1" height="84.2" fill="none" stroke="#a8a8a8" stroke-width="2.2"/>
<path d="M528.5,263.6 H543.8 V215.5 H589.8 V263.6 H607" fill="none" stroke="#a8a8a8" stroke-width="1.6" />
<line x1="543.80" y1="220.54" x2="589.80" y2="220.54" stroke="#a8a8a8" stroke-width="1.5"/>
<line x1="543.80" y1="225.58" x2="589.80" y2="225.58" stroke="#a8a8a8" stroke-width="1.5"/>
<line x1="543.80" y1="230.62" x2="589.80" y2="230.62" stroke="#a8a8a8" stroke-width="1.5"/>
<line x1="543.80" y1="235.66" x2="589.80" y2="235.66" stroke="#a8a8a8" stroke-width="1.5"/>
<line x1="543.80" y1="240.70" x2="589.80" y2="240.70" stroke="#a8a8a8" stroke-width="1.5"/>
<line x1="543.80" y1="245.74" x2="589.80" y2="245.74" stroke="#a8a8a8" stroke-width="1.5"/>
<line x1="543.80" y1="250.78" x2="589.80" y2="250.78" stroke="#a8a8a8" stroke-width="1.5"/>
<line x1="543.80" y1="255.82" x2="589.80" y2="255.82" stroke="#a8a8a8" stroke-width="1.5"/>
<line x1="543.70" y1="269.20" x2="590.00" y2="269.20" stroke="#a8a8a8" stroke-width="1.9"/>
<line x1="595.20" y1="244.90" x2="595.20" y2="256.60" stroke="#a8a8a8" stroke-width="2.3"/>
<rect x="162.1" y="372.1" width="372.8" height="37.6" fill="none" stroke="#aaa" stroke-width="1.9"/>
<circle cx="181.15" cy="390.25" r="7" fill="#000"/>
<circle cx="272.6" cy="390.6" r="5.6" fill="#808080" stroke="#000" stroke-width="2.5"/>
<circle cx="417.2" cy="390.3" r="5.2" fill="#fff" stroke="#000" stroke-width="2.6"/>
<path d="M76,431.9 V578 H301.1" fill="none" stroke="#000" stroke-width="2.5" />
<line x1="74.90" y1="578.00" x2="76.00" y2="578.00" stroke="#000" stroke-width="2.5"/>
<line x1="71.90" y1="432.40" x2="76.00" y2="432.40" stroke="#000" stroke-width="2.2"/>
<line x1="71.90" y1="466.90" x2="76.00" y2="466.90" stroke="#000" stroke-width="2.2"/>
<line x1="71.90" y1="500.80" x2="76.00" y2="500.80" stroke="#000" stroke-width="2.2"/>
<line x1="71.90" y1="535.60" x2="76.00" y2="535.60" stroke="#000" stroke-width="2.2"/>
<line x1="71.90" y1="569.30" x2="76.00" y2="569.30" stroke="#000" stroke-width="2.2"/>
<line x1="90.05" y1="578.00" x2="90.05" y2="582.60" stroke="#000" stroke-width="2.3"/>
<line x1="142.56" y1="578.00" x2="142.56" y2="582.60" stroke="#000" stroke-width="2.3"/>
<line x1="195.08" y1="578.00" x2="195.08" y2="582.60" stroke="#000" stroke-width="2.3"/>
<line x1="247.59" y1="578.00" x2="247.59" y2="582.60" stroke="#000" stroke-width="2.3"/>
<line x1="300.10" y1="578.00" x2="300.10" y2="582.60" stroke="#000" stroke-width="2.3"/>
<path d="M90.05,567.12 L91.36,567.00 L92.68,566.87 L93.99,566.73 L95.30,566.59 L96.61,566.43 L97.93,566.27 L99.24,566.10 L100.55,565.92 L101.87,565.72 L103.18,565.52 L104.49,565.30 L105.80,565.08 L107.12,564.84 L108.43,564.58 L109.74,564.31 L111.06,564.03 L112.37,563.73 L113.68,563.41 L114.99,563.08 L116.31,562.72 L117.62,562.35 L118.93,561.96 L120.24,561.55 L121.56,561.11 L122.87,560.65 L124.18,560.17 L125.50,559.66 L126.81,559.13 L128.12,558.57 L129.43,557.98 L130.75,557.36 L132.06,556.71 L133.37,556.03 L134.69,555.32 L136.00,554.57 L137.31,553.79 L138.62,552.98 L139.94,552.13 L141.25,551.24 L142.56,550.31 L143.88,549.35 L145.19,548.35 L146.50,547.30 L147.81,546.22 L149.13,545.10 L150.44,543.93 L151.75,542.73 L153.07,541.49 L154.38,540.20 L155.69,538.88 L157.00,537.52 L158.32,536.11 L159.63,534.68 L160.94,533.20 L162.26,531.69 L163.57,530.15 L164.88,528.58 L166.19,526.98 L167.51,525.35 L168.82,523.69 L170.13,522.01 L171.45,520.32 L172.76,518.60 L174.07,516.87 L175.38,515.13 L176.70,513.38 L178.01,511.62 L179.32,509.87 L180.63,508.11 L181.95,506.36 L183.26,504.61 L184.57,502.87 L185.89,501.15 L187.20,499.44 L188.51,497.76 L189.82,496.09 L191.14,494.45 L192.45,492.83 L193.76,491.24 L195.08,489.68 L196.39,488.16 L197.70,486.67 L199.01,485.21 L200.33,483.79 L201.64,482.41 L202.95,481.07 L204.27,479.76 L205.58,478.50 L206.89,477.28 L208.20,476.09 L209.52,474.95 L210.83,473.85 L212.14,472.78 L213.46,471.76 L214.77,470.78 L216.08,469.83 L217.39,468.93 L218.71,468.06 L220.02,467.22 L221.33,466.43 L222.65,465.66 L223.96,464.93 L225.27,464.24 L226.58,463.57 L227.90,462.94 L229.21,462.34 L230.52,461.76 L231.84,461.22 L233.15,460.70 L234.46,460.20 L235.77,459.73 L237.09,459.28 L238.40,458.86 L239.71,458.46 L241.02,458.07 L242.34,457.71 L243.65,457.37 L244.96,457.04 L246.28,456.74 L247.59,456.44 L248.90,456.17 L250.21,455.91 L251.53,455.66 L252.84,455.42 L254.15,455.20 L255.47,454.99 L256.78,454.79 L258.09,454.61 L259.40,454.43 L260.72,454.26 L262.03,454.11 L263.34,453.96 L264.66,453.82 L265.97,453.68 L267.28,453.56 L268.59,453.44 L269.91,453.33 L271.22,453.22 L272.53,453.12 L273.85,453.03 L275.16,452.94 L276.47,452.86 L277.78,452.78 L279.10,452.70 L280.41,452.63 L281.72,452.57 L283.04,452.50 L284.35,452.45 L285.66,452.39 L286.97,452.34 L288.29,452.29 L289.60,452.24 L290.91,452.20 L292.23,452.16 L293.54,452.12 L294.85,452.08 L296.16,452.05 L297.48,452.01 L298.79,451.98 L300.10,451.95" fill="none" stroke="#a0a0a0" stroke-width="2.6" />
<path d="M90.05,567.30 L116.31,568.00 L142.56,559.20 L168.82,535.20 L195.08,488.20 L221.33,460.50 L247.59,448.70 L273.85,444.70 L300.10,445.80" fill="none" stroke="#000" stroke-width="2.6" stroke-linejoin="round"/>
<path d="M90.05,569.50 L116.31,569.50 L142.56,569.50 L168.82,569.90 L195.08,569.00 L221.33,569.00 L247.59,568.30 L273.85,567.60 L300.10,566.20" fill="none" stroke="#000" stroke-width="2.4" />
<line x1="90.05" y1="565.80" x2="90.05" y2="568.80" stroke="#000" stroke-width="2.2"/>
<line x1="116.31" y1="566.50" x2="116.31" y2="569.50" stroke="#000" stroke-width="2.2"/>
<line x1="142.56" y1="556.20" x2="142.56" y2="562.20" stroke="#000" stroke-width="2.2"/>
<line x1="168.82" y1="527.80" x2="168.82" y2="542.60" stroke="#000" stroke-width="2.2"/>
<line x1="195.08" y1="472.70" x2="195.08" y2="503.70" stroke="#000" stroke-width="2.2"/>
<line x1="221.33" y1="452.40" x2="221.33" y2="468.60" stroke="#000" stroke-width="2.2"/>
<line x1="247.59" y1="438.30" x2="247.59" y2="459.10" stroke="#000" stroke-width="2.2"/>
<line x1="273.85" y1="434.00" x2="273.85" y2="455.40" stroke="#000" stroke-width="2.2"/>
<line x1="300.10" y1="434.80" x2="300.10" y2="456.80" stroke="#000" stroke-width="2.2"/>
<line x1="90.05" y1="563.10" x2="90.05" y2="566.10" stroke="#000" stroke-width="2.2"/>
<line x1="116.31" y1="562.40" x2="116.31" y2="565.40" stroke="#000" stroke-width="2.2"/>
<line x1="142.56" y1="550.30" x2="142.56" y2="556.30" stroke="#000" stroke-width="2.2"/>
<line x1="168.82" y1="505.00" x2="168.82" y2="531.20" stroke="#000" stroke-width="2.2"/>
<line x1="195.08" y1="472.70" x2="195.08" y2="503.70" stroke="#000" stroke-width="2.2"/>
<line x1="221.33" y1="454.30" x2="221.33" y2="483.90" stroke="#000" stroke-width="2.2"/>
<line x1="247.59" y1="445.20" x2="247.59" y2="473.00" stroke="#000" stroke-width="2.2"/>
<line x1="273.85" y1="440.10" x2="273.85" y2="465.50" stroke="#000" stroke-width="2.2"/>
<line x1="300.10" y1="436.70" x2="300.10" y2="462.30" stroke="#000" stroke-width="2.2"/>
<circle cx="90.05" cy="567.3" r="5.5" fill="#000"/>
<circle cx="116.31" cy="568.0" r="5.5" fill="#000"/>
<circle cx="142.56" cy="559.2" r="5.5" fill="#000"/>
<circle cx="168.82" cy="535.2" r="5.5" fill="#000"/>
<circle cx="195.08" cy="488.2" r="5.5" fill="#000"/>
<circle cx="221.33" cy="460.5" r="5.5" fill="#000"/>
<circle cx="247.59" cy="448.7" r="5.5" fill="#000"/>
<circle cx="273.85" cy="444.7" r="5.5" fill="#000"/>
<circle cx="300.10" cy="445.8" r="5.5" fill="#000"/>
<circle cx="90.05" cy="564.6" r="4.35" fill="#808080" stroke="#000" stroke-width="2.4"/>
<circle cx="116.31" cy="563.9" r="4.35" fill="#808080" stroke="#000" stroke-width="2.4"/>
<circle cx="142.56" cy="553.3" r="4.35" fill="#808080" stroke="#000" stroke-width="2.4"/>
<circle cx="168.82" cy="518.1" r="4.35" fill="#808080" stroke="#000" stroke-width="2.4"/>
<circle cx="195.08" cy="488.2" r="4.35" fill="#808080" stroke="#000" stroke-width="2.4"/>
<circle cx="221.33" cy="469.1" r="4.35" fill="#808080" stroke="#000" stroke-width="2.4"/>
<circle cx="247.59" cy="459.1" r="4.35" fill="#808080" stroke="#000" stroke-width="2.4"/>
<circle cx="273.85" cy="452.8" r="4.35" fill="#808080" stroke="#000" stroke-width="2.4"/>
<circle cx="300.10" cy="449.5" r="4.35" fill="#808080" stroke="#000" stroke-width="2.4"/>
<circle cx="90.05" cy="569.5" r="4.15" fill="#fff" stroke="#000" stroke-width="2.5"/>
<circle cx="116.31" cy="569.5" r="4.15" fill="#fff" stroke="#000" stroke-width="2.5"/>
<circle cx="142.56" cy="569.5" r="4.15" fill="#fff" stroke="#000" stroke-width="2.5"/>
<circle cx="168.82" cy="569.9" r="4.15" fill="#fff" stroke="#000" stroke-width="2.5"/>
<circle cx="195.08" cy="569.0" r="4.15" fill="#fff" stroke="#000" stroke-width="2.5"/>
<circle cx="221.33" cy="569.0" r="4.15" fill="#fff" stroke="#000" stroke-width="2.5"/>
<circle cx="247.59" cy="568.3" r="4.15" fill="#fff" stroke="#000" stroke-width="2.5"/>
<circle cx="273.85" cy="567.6" r="4.15" fill="#fff" stroke="#000" stroke-width="2.5"/>
<circle cx="300.10" cy="566.2" r="4.15" fill="#fff" stroke="#000" stroke-width="2.5"/>
<path d="M403.5,431.2 V578.5 H632.2" fill="none" stroke="#000" stroke-width="2.5" />
<line x1="402.00" y1="578.50" x2="403.50" y2="578.50" stroke="#000" stroke-width="2.5"/>
<line x1="399.30" y1="432.00" x2="403.50" y2="432.00" stroke="#000" stroke-width="2.2"/>
<line x1="399.30" y1="501.40" x2="403.50" y2="501.40" stroke="#000" stroke-width="2.2"/>
<line x1="399.30" y1="570.10" x2="403.50" y2="570.10" stroke="#000" stroke-width="2.2"/>
<line x1="417.70" y1="578.50" x2="417.70" y2="582.90" stroke="#000" stroke-width="2.3"/>
<line x1="471.03" y1="578.50" x2="471.03" y2="582.90" stroke="#000" stroke-width="2.3"/>
<line x1="524.36" y1="578.50" x2="524.36" y2="582.90" stroke="#000" stroke-width="2.3"/>
<line x1="577.69" y1="578.50" x2="577.69" y2="582.90" stroke="#000" stroke-width="2.3"/>
<line x1="631.02" y1="578.50" x2="631.02" y2="582.90" stroke="#000" stroke-width="2.3"/>
<path d="M417.70,569.59 L419.03,569.38 L420.37,569.15 L421.70,568.92 L423.03,568.68 L424.37,568.43 L425.70,568.17 L427.03,567.90 L428.37,567.62 L429.70,567.32 L431.03,567.02 L432.37,566.70 L433.70,566.37 L435.03,566.03 L436.37,565.67 L437.70,565.30 L439.03,564.91 L440.37,564.51 L441.70,564.10 L443.03,563.66 L444.37,563.22 L445.70,562.75 L447.03,562.27 L448.36,561.77 L449.70,561.25 L451.03,560.71 L452.36,560.15 L453.70,559.58 L455.03,558.98 L456.36,558.36 L457.70,557.72 L459.03,557.06 L460.36,556.38 L461.70,555.67 L463.03,554.94 L464.36,554.18 L465.70,553.41 L467.03,552.60 L468.36,551.78 L469.70,550.92 L471.03,550.04 L472.36,549.14 L473.70,548.21 L475.03,547.25 L476.36,546.27 L477.70,545.26 L479.03,544.23 L480.36,543.16 L481.70,542.07 L483.03,540.96 L484.36,539.81 L485.70,538.64 L487.03,537.45 L488.36,536.23 L489.70,534.98 L491.03,533.71 L492.36,532.42 L493.70,531.10 L495.03,529.75 L496.36,528.39 L497.69,527.00 L499.03,525.59 L500.36,524.16 L501.69,522.72 L503.03,521.25 L504.36,519.77 L505.69,518.27 L507.03,516.76 L508.36,515.23 L509.69,513.70 L511.03,512.15 L512.36,510.59 L513.69,509.02 L515.03,507.45 L516.36,505.88 L517.69,504.30 L519.03,502.71 L520.36,501.13 L521.69,499.55 L523.03,497.97 L524.36,496.40 L525.69,494.83 L527.03,493.27 L528.36,491.71 L529.69,490.17 L531.03,488.64 L532.36,487.12 L533.69,485.62 L535.03,484.13 L536.36,482.65 L537.69,481.20 L539.03,479.76 L540.36,478.34 L541.69,476.95 L543.03,475.57 L544.36,474.22 L545.69,472.89 L547.03,471.58 L548.36,470.30 L549.69,469.04 L551.02,467.81 L552.36,466.60 L553.69,465.42 L555.02,464.27 L556.36,463.14 L557.69,462.04 L559.02,460.96 L560.36,459.91 L561.69,458.89 L563.02,457.90 L564.36,456.93 L565.69,455.99 L567.02,455.07 L568.36,454.18 L569.69,453.32 L571.02,452.48 L572.36,451.66 L573.69,450.87 L575.02,450.11 L576.36,449.37 L577.69,448.65 L579.02,447.96 L580.36,447.28 L581.69,446.63 L583.02,446.01 L584.36,445.40 L585.69,444.81 L587.02,444.25 L588.36,443.70 L589.69,443.17 L591.02,442.66 L592.36,442.17 L593.69,441.70 L595.02,441.24 L596.36,440.80 L597.69,440.38 L599.02,439.97 L600.36,439.58 L601.69,439.20 L603.02,438.84 L604.36,438.49 L605.69,438.15 L607.02,437.83 L608.35,437.52 L609.69,437.22 L611.02,436.93 L612.35,436.66 L613.69,436.39 L615.02,436.14 L616.35,435.89 L617.69,435.66 L619.02,435.43 L620.35,435.21 L621.69,435.01 L623.02,434.81 L624.35,434.61 L625.69,434.43 L627.02,434.25 L628.35,434.08 L629.69,433.92 L631.02,433.76" fill="none" stroke="#a0a0a0" stroke-width="2.6" />
<path d="M417.70,569.98 L419.03,569.89 L420.37,569.80 L421.70,569.70 L423.03,569.59 L424.37,569.48 L425.70,569.36 L427.03,569.23 L428.37,569.10 L429.70,568.96 L431.03,568.81 L432.37,568.65 L433.70,568.48 L435.03,568.30 L436.37,568.11 L437.70,567.91 L439.03,567.70 L440.37,567.48 L441.70,567.24 L443.03,566.99 L444.37,566.73 L445.70,566.45 L447.03,566.16 L448.36,565.85 L449.70,565.52 L451.03,565.17 L452.36,564.81 L453.70,564.42 L455.03,564.02 L456.36,563.59 L457.70,563.13 L459.03,562.66 L460.36,562.16 L461.70,561.63 L463.03,561.07 L464.36,560.49 L465.70,559.88 L467.03,559.23 L468.36,558.55 L469.70,557.84 L471.03,557.10 L472.36,556.31 L473.70,555.50 L475.03,554.64 L476.36,553.74 L477.70,552.81 L479.03,551.83 L480.36,550.81 L481.70,549.75 L483.03,548.64 L484.36,547.49 L485.70,546.29 L487.03,545.04 L488.36,543.75 L489.70,542.41 L491.03,541.03 L492.36,539.60 L493.70,538.12 L495.03,536.60 L496.36,535.03 L497.69,533.41 L499.03,531.75 L500.36,530.05 L501.69,528.31 L503.03,526.53 L504.36,524.71 L505.69,522.86 L507.03,520.97 L508.36,519.05 L509.69,517.10 L511.03,515.13 L512.36,513.14 L513.69,511.13 L515.03,509.10 L516.36,507.06 L517.69,505.01 L519.03,502.96 L520.36,500.90 L521.69,498.85 L523.03,496.80 L524.36,494.76 L525.69,492.74 L527.03,490.73 L528.36,488.74 L529.69,486.77 L531.03,484.83 L532.36,482.91 L533.69,481.03 L535.03,479.18 L536.36,477.37 L537.69,475.60 L539.03,473.86 L540.36,472.17 L541.69,470.52 L543.03,468.91 L544.36,467.35 L545.69,465.83 L547.03,464.36 L548.36,462.94 L549.69,461.56 L551.02,460.23 L552.36,458.95 L553.69,457.71 L555.02,456.52 L556.36,455.38 L557.69,454.27 L559.02,453.22 L560.36,452.21 L561.69,451.23 L563.02,450.31 L564.36,449.42 L565.69,448.57 L567.02,447.75 L568.36,446.98 L569.69,446.24 L571.02,445.53 L572.36,444.86 L573.69,444.22 L575.02,443.61 L576.36,443.03 L577.69,442.48 L579.02,441.96 L580.36,441.46 L581.69,440.99 L583.02,440.54 L584.36,440.12 L585.69,439.71 L587.02,439.33 L588.36,438.97 L589.69,438.63 L591.02,438.30 L592.36,437.99 L593.69,437.70 L595.02,437.43 L596.36,437.16 L597.69,436.92 L599.02,436.68 L600.36,436.46 L601.69,436.25 L603.02,436.06 L604.36,435.87 L605.69,435.69 L607.02,435.53 L608.35,435.37 L609.69,435.22 L611.02,435.08 L612.35,434.95 L613.69,434.82 L615.02,434.71 L616.35,434.59 L617.69,434.49 L619.02,434.39 L620.35,434.30 L621.69,434.21 L623.02,434.12 L624.35,434.04 L625.69,433.97 L627.02,433.90 L628.35,433.83 L629.69,433.77 L631.02,433.71" fill="none" stroke="#000" stroke-width="2.6" />
<line x1="417.70" y1="566.50" x2="417.70" y2="568.50" stroke="#000" stroke-width="2.2"/>
<line x1="444.37" y1="567.10" x2="444.37" y2="569.10" stroke="#000" stroke-width="2.2"/>
<line x1="471.03" y1="558.00" x2="471.03" y2="561.00" stroke="#000" stroke-width="2.2"/>
<line x1="497.69" y1="529.80" x2="497.69" y2="543.80" stroke="#000" stroke-width="2.2"/>
<line x1="524.36" y1="487.60" x2="524.36" y2="495.60" stroke="#000" stroke-width="2.2"/>
<line x1="551.02" y1="460.20" x2="551.02" y2="464.20" stroke="#000" stroke-width="2.2"/>
<line x1="577.69" y1="444.10" x2="577.69" y2="447.10" stroke="#000" stroke-width="2.2"/>
<line x1="604.36" y1="434.50" x2="604.36" y2="436.50" stroke="#000" stroke-width="2.2"/>
<line x1="631.02" y1="432.50" x2="631.02" y2="432.50" stroke="#000" stroke-width="2.2"/>
<line x1="417.70" y1="564.10" x2="417.70" y2="566.10" stroke="#000" stroke-width="2.2"/>
<line x1="444.37" y1="562.80" x2="444.37" y2="564.80" stroke="#000" stroke-width="2.2"/>
<line x1="471.03" y1="554.90" x2="471.03" y2="557.90" stroke="#000" stroke-width="2.2"/>
<line x1="497.69" y1="518.10" x2="497.69" y2="531.30" stroke="#000" stroke-width="2.2"/>
<line x1="524.36" y1="485.40" x2="524.36" y2="502.40" stroke="#000" stroke-width="2.2"/>
<line x1="551.02" y1="464.30" x2="551.02" y2="478.70" stroke="#000" stroke-width="2.2"/>
<line x1="577.69" y1="454.70" x2="577.69" y2="458.70" stroke="#000" stroke-width="2.2"/>
<line x1="604.36" y1="441.20" x2="604.36" y2="444.20" stroke="#000" stroke-width="2.2"/>
<line x1="631.02" y1="431.90" x2="631.02" y2="431.90" stroke="#000" stroke-width="2.2"/>
<circle cx="417.70" cy="567.5" r="5.55" fill="#000"/>
<circle cx="444.37" cy="568.1" r="5.55" fill="#000"/>
<circle cx="471.03" cy="559.5" r="5.55" fill="#000"/>
<circle cx="497.69" cy="536.8" r="5.55" fill="#000"/>
<circle cx="524.36" cy="491.6" r="5.55" fill="#000"/>
<circle cx="551.02" cy="462.2" r="5.55" fill="#000"/>
<circle cx="577.69" cy="445.6" r="5.55" fill="#000"/>
<circle cx="604.36" cy="435.5" r="5.55" fill="#000"/>
<circle cx="631.02" cy="432.5" r="5.55" fill="#000"/>
<circle cx="417.70" cy="565.1" r="4.3" fill="#808080" stroke="#000" stroke-width="2.5"/>
<circle cx="444.37" cy="563.8" r="4.3" fill="#808080" stroke="#000" stroke-width="2.5"/>
<circle cx="471.03" cy="556.4" r="4.3" fill="#808080" stroke="#000" stroke-width="2.5"/>
<circle cx="497.69" cy="524.7" r="4.3" fill="#808080" stroke="#000" stroke-width="2.5"/>
<circle cx="524.36" cy="493.9" r="4.3" fill="#808080" stroke="#000" stroke-width="2.5"/>
<circle cx="551.02" cy="471.5" r="4.3" fill="#808080" stroke="#000" stroke-width="2.5"/>
<circle cx="577.69" cy="456.7" r="4.3" fill="#808080" stroke="#000" stroke-width="2.5"/>
<circle cx="604.36" cy="442.7" r="4.3" fill="#808080" stroke="#000" stroke-width="2.5"/>
<circle cx="631.02" cy="431.9" r="4.3" fill="#808080" stroke="#000" stroke-width="2.5"/>
<circle cx="525.4" cy="531.5" r="5.55" fill="#000"/>
<circle cx="525.4" cy="556.9" r="4.3" fill="#808080" stroke="#000" stroke-width="2.5"/>
<g transform="translate(-0.18,24.10) scale(1.0427,1.0462)"><text fill="#000" stroke="#000" stroke-width="0.15" font-size="33" font-weight="bold">A</text></g>
<g transform="translate(0.56,390.10) scale(0.9950,1.0374)"><text fill="#000" stroke="#000" stroke-width="0.15" font-size="33" font-weight="bold">B</text></g>
<g transform="translate(117.86,31.30) scale(0.9797,1.0444)"><text fill="#000" stroke="#000" stroke-width="0.15" font-size="19.5">WT</text></g>
<g transform="translate(296.70,31.09) scale(0.9994,0.9700)"><text fill="#000" stroke="#000" stroke-width="0.15" font-size="19.5">Ca<tspan font-size="11.3" dy="6.4">V</tspan><tspan dy="-6.4">3.2KO</tspan></text></g>
<g transform="translate(510.21,31.09) scale(0.9876,0.9700)"><text fill="#000" stroke="#000" stroke-width="0.15" font-size="19.5">Ca<tspan font-size="11.3" dy="6.4">V</tspan><tspan dy="-6.4">3.DKO</tspan></text></g>
<g transform="translate(532.69,159.45) rotate(-90) scale(0.9836,1.0500)"><text fill="#000" stroke="#000" stroke-width="0.15" font-size="15.5">400 pA</text></g>
<g transform="translate(540.46,167.25) scale(0.9870,1.0174)"><text fill="#000" stroke="#000" stroke-width="0.15" font-size="16">50 ms</text></g>
<g transform="translate(98.80,256.40) scale(1.0065,1.0486)"><text fill="#000" stroke="#000" stroke-width="0.15" font-size="10">w, decay</text></g>
<g transform="translate(139.76,249.50) scale(0.9806,1.0233)"><text fill="#000" stroke="#000" stroke-width="0.15" font-size="15.5">= 43 ms</text></g>
<g transform="translate(99.00,285.00) scale(1.0090,1.0486)"><text fill="#999" stroke="#999" stroke-width="0.15" font-size="10">w, decay</text></g>
<g transform="translate(139.86,279.00) scale(0.9862,0.9488)"><text fill="#999" stroke="#999" stroke-width="0.15" font-size="15.5">= 89 ms</text></g>
<g transform="translate(107.92,335.05) scale(1.0207,0.9913)"><text fill="#000" stroke="#000" stroke-width="0.15" font-size="16">100 ms</text></g>
<g transform="translate(213.23,225.10) scale(1.0326,1.0326)"><text fill="#000" stroke="#000" stroke-width="0.15" font-size="15.5">100</text></g>
<g transform="translate(222.82,269.10) scale(1.0140,1.0140)"><text fill="#000" stroke="#000" stroke-width="0.15" font-size="15.5">50</text></g>
<g transform="translate(231.89,312.00) scale(1.0140,1.0140)"><text fill="#000" stroke="#000" stroke-width="0.15" font-size="15.5">0</text></g>
<g transform="translate(338.60,225.60) scale(1.0326,1.0326)"><text fill="#000" stroke="#000" stroke-width="0.15" font-size="15.5">10</text></g>
<g transform="translate(347.71,268.50) scale(1.0233,1.0233)"><text fill="#000" stroke="#000" stroke-width="0.15" font-size="15.5">5</text></g>
<g transform="translate(347.79,312.30) scale(1.0140,1.0140)"><text fill="#000" stroke="#000" stroke-width="0.15" font-size="15.5">0</text></g>
<g transform="translate(250.40,335.65) scale(1.0099,0.9538)"><text fill="#000" stroke="#000" stroke-width="0.15" font-size="10.4">w, decay</text></g>
<g transform="translate(295.58,329.91) scale(1.0200,1.0441)"><text fill="#000" stroke="#000" stroke-width="0.15" font-size="16">(ms)</text></g>
<g transform="translate(351.72,329.74) scale(0.9779,1.0644)"><text fill="#000" stroke="#000" stroke-width="0.15" font-size="16">rise time (ms)</text></g>
<g transform="translate(470.58,268.80) scale(0.9628,1.0233)"><text fill="#a4a4a4" stroke="#a4a4a4" stroke-width="0.15" font-size="15.5">-100 mV</text></g>
<g transform="translate(599.10,256.60) scale(0.9618,1.0419)"><text fill="#a4a4a4" stroke="#a4a4a4" stroke-width="0.15" font-size="15.5">10 mV</text></g>
<g transform="translate(556.32,285.90) scale(1.0341,1.0341)"><text fill="#a4a4a4" stroke="#a4a4a4" stroke-width="0.15" font-size="15">1 s</text></g>
<g transform="translate(200.96,396.90) scale(0.9695,1.0222)"><text fill="#000" stroke="#000" stroke-width="0.15" font-size="19.5">WT</text></g>
<g transform="translate(290.89,396.67) scale(1.0058,0.9975)"><text fill="#000" stroke="#000" stroke-width="0.15" font-size="19.5">Ca<tspan font-size="11.7" dy="6.8">V</tspan><tspan dy="-6.8">3.2KO</tspan></text></g>
<g transform="translate(432.69,396.67) scale(1.0084,0.9975)"><text fill="#000" stroke="#000" stroke-width="0.15" font-size="19.5">Ca<tspan font-size="11.7" dy="6.8">V</tspan><tspan dy="-6.8">3.DKO</tspan></text></g>
<g transform="translate(51.02,438.05) scale(1.0140,1.0140)"><text fill="#000" stroke="#000" stroke-width="0.15" font-size="15.5">16</text></g>
<g transform="translate(51.02,472.55) scale(1.0140,1.0140)"><text fill="#000" stroke="#000" stroke-width="0.15" font-size="15.5">12</text></g>
<g transform="translate(59.64,506.55) scale(1.0140,1.0140)"><text fill="#000" stroke="#000" stroke-width="0.15" font-size="15.5">8</text></g>
<g transform="translate(59.38,541.25) scale(1.0140,1.0140)"><text fill="#000" stroke="#000" stroke-width="0.15" font-size="15.5">4</text></g>
<g transform="translate(59.64,574.95) scale(1.0140,1.0140)"><text fill="#000" stroke="#000" stroke-width="0.15" font-size="15.5">0</text></g>
<g transform="translate(73.81,600.10) scale(1.0529,1.0174)"><text fill="#000" stroke="#000" stroke-width="0.15" font-size="16">-90</text></g>
<g transform="translate(403.11,599.64) scale(1.0483,1.0435)"><text fill="#000" stroke="#000" stroke-width="0.15" font-size="16">-90</text></g>
<g transform="translate(126.32,600.10) scale(1.0529,1.0174)"><text fill="#000" stroke="#000" stroke-width="0.15" font-size="16">-80</text></g>
<g transform="translate(456.44,599.64) scale(1.0483,1.0435)"><text fill="#000" stroke="#000" stroke-width="0.15" font-size="16">-80</text></g>
<g transform="translate(178.84,600.10) scale(1.0529,1.0174)"><text fill="#000" stroke="#000" stroke-width="0.15" font-size="16">-70</text></g>
<g transform="translate(509.77,599.64) scale(1.0483,1.0435)"><text fill="#000" stroke="#000" stroke-width="0.15" font-size="16">-70</text></g>
<g transform="translate(231.35,600.10) scale(1.0529,1.0174)"><text fill="#000" stroke="#000" stroke-width="0.15" font-size="16">-60</text></g>
<g transform="translate(563.10,599.64) scale(1.0483,1.0435)"><text fill="#000" stroke="#000" stroke-width="0.15" font-size="16">-60</text></g>
<g transform="translate(283.86,600.10) scale(1.0529,1.0174)"><text fill="#000" stroke="#000" stroke-width="0.15" font-size="16">-50</text></g>
<g transform="translate(616.43,599.64) scale(1.0483,1.0435)"><text fill="#000" stroke="#000" stroke-width="0.15" font-size="16">-50</text></g>
<g transform="translate(186.55,622.20) scale(1.0041,1.0923)"><text fill="#000" stroke="#000" stroke-width="0.15" font-size="19">V</text></g>
<g transform="translate(198.78,629.50) scale(1.0222,0.9571)"><text fill="#000" stroke="#000" stroke-width="0.15" font-size="13">m</text></g>
<g transform="translate(517.45,621.90) scale(0.9878,1.0692)"><text fill="#000" stroke="#000" stroke-width="0.15" font-size="19">V</text></g>
<g transform="translate(529.78,629.50) scale(0.9222,0.9571)"><text fill="#000" stroke="#000" stroke-width="0.15" font-size="13">m</text></g>
<g transform="translate(40.69,588.85) rotate(-90) scale(0.9812,1.1119)"><text fill="#000" stroke="#000" stroke-width="0.05" font-size="16">T current density (pA/pF)</text></g>
<g transform="translate(368.53,437.50) scale(1.0326,1.0326)"><text fill="#000" stroke="#000" stroke-width="0.15" font-size="15.5">100</text></g>
<g transform="translate(377.30,506.90) scale(1.0326,1.0326)"><text fill="#000" stroke="#000" stroke-width="0.15" font-size="15.5">50</text></g>
<g transform="translate(386.34,575.60) scale(1.0326,1.0326)"><text fill="#000" stroke="#000" stroke-width="0.15" font-size="15.5">0</text></g>
<g transform="translate(364.95,534.77) rotate(-90) scale(0.9424,1.0041)"><text fill="#000" stroke="#000" stroke-width="0.1" font-size="16.5">% G/G</text></g>
<g transform="translate(372.10,489.43) rotate(-90) scale(1.1111,1.0857)"><text fill="#000" stroke="#000" stroke-width="0.1" font-size="10">max</text></g>
<g transform="translate(534.84,534.80) scale(1.0300,1.0419)"><text fill="#000" stroke="#000" stroke-width="0.15" font-size="15.5">V</text></g>
<g transform="translate(545.23,540.10) scale(0.8966,1.0143)"><text fill="#000" stroke="#000" stroke-width="0.15" font-size="9.5">half</text></g>
<g transform="translate(561.29,535.30) scale(0.9512,1.0698)"><text fill="#000" stroke="#000" stroke-width="0.15" font-size="15.5">= -71.1 ± 1.0</text></g>
<g transform="translate(534.84,560.40) scale(1.0300,1.0419)"><text fill="#000" stroke="#000" stroke-width="0.15" font-size="15.5">V</text></g>
<g transform="translate(545.23,565.70) scale(0.8966,1.0143)"><text fill="#000" stroke="#000" stroke-width="0.15" font-size="9.5">half</text></g>
<g transform="translate(561.28,560.90) scale(0.9539,1.0698)"><text fill="#000" stroke="#000" stroke-width="0.15" font-size="15.5">= -69.8 ± 1.7</text></g>
<path d="M0.04,0.27 Q0.08,0.09 0.26,0.088 L0.99,0.088 M0.5,0.088 L0.5,0.76 Q0.52,0.98 0.73,0.975 Q0.87,0.96 0.92,0.79" transform="translate(91.2,240.9) scale(7.200000000000003,8.699999999999989)" fill="none" stroke="#000" stroke-width="1.35" vector-effect="non-scaling-stroke" stroke-linecap="round"/>
<path d="M0.04,0.27 Q0.08,0.09 0.26,0.088 L0.99,0.088 M0.5,0.088 L0.5,0.76 Q0.52,0.98 0.73,0.975 Q0.87,0.96 0.92,0.79" transform="translate(91.4,269.4) scale(7.099999999999994,8.700000000000045)" fill="none" stroke="#999" stroke-width="1.35" vector-effect="non-scaling-stroke" stroke-linecap="round"/>
<path d="M0.04,0.27 Q0.08,0.09 0.26,0.088 L0.99,0.088 M0.5,0.088 L0.5,0.76 Q0.52,0.98 0.73,0.975 Q0.87,0.96 0.92,0.79" transform="translate(241,319.3) scale(8.900000000000006,10.5)" fill="none" stroke="#000" stroke-width="1.5" vector-effect="non-scaling-stroke" stroke-linecap="round"/>
</svg>
</body></html>
